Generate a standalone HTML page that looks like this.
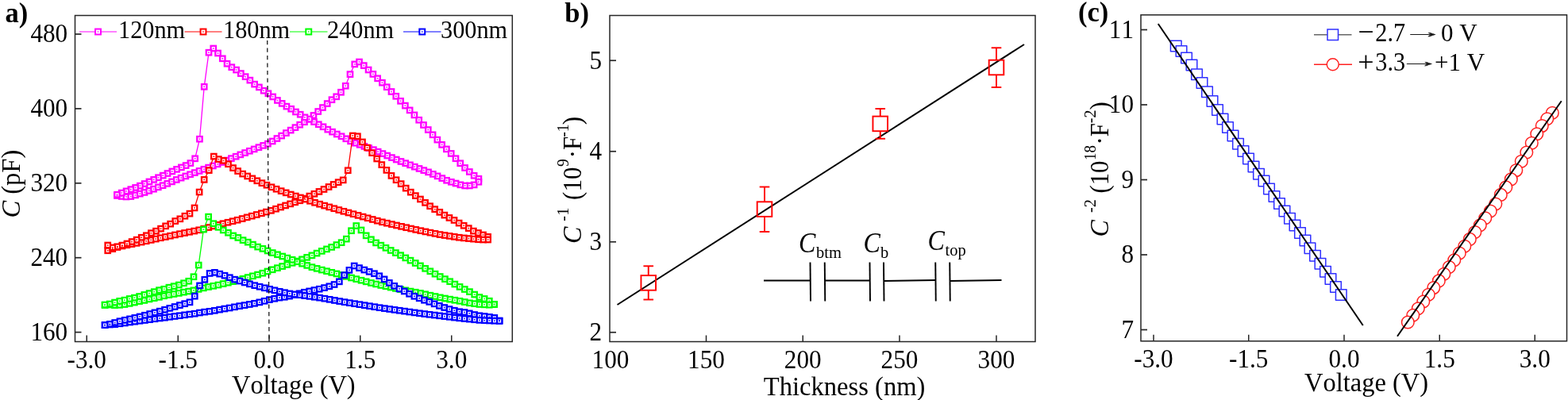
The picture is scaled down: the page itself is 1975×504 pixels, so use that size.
<!DOCTYPE html>
<html lang="en">
<head>
<meta charset="utf-8">
<title>C-V characteristics</title>
<style>
html,body{margin:0;padding:0;background:#fff;}
body{width:1975px;height:504px;overflow:hidden;}
svg{display:block;font-family:'Liberation Serif','Times New Roman',serif;fill:#000;font-kerning:none;}
</style>
</head>
<body>
<svg width="1975" height="504" viewBox="0 0 1975 504">
<rect width="1975" height="504" fill="#fff" stroke="none"/>
<path d="M147.5,246.5 L153.25,247.46 L159.01,247.97 L164.76,247.52 L170.52,245.9 L176.27,244.12 L182.03,242.45 L187.78,240.37 L193.54,238.22 L199.29,235.84 L205.05,233.69 L210.8,231.32 L216.56,228.89 L222.31,226.44 L228.07,224.13 L233.82,221.95 L239.58,219.76 L245.33,217.57 L251.08,215.4 L256.84,213.26 L262.59,211.11 L268.35,208.97 L274.1,206.83 L279.86,204.46 L285.61,202.04 L291.37,199.63 L297.12,197.21 L302.88,194.85 L308.63,192.55 L314.39,190.25 L320.14,187.94 L325.9,185.65 L331.65,183.39 L337.41,181.13 L343.16,177.99 L348.92,174.52 L354.67,171.05 L360.42,167.58 L366.18,164.11 L371.93,160.64 L377.69,157.17 L383.44,153.7 L389.2,150.23 L394.95,145.47 L400.71,140.5 L406.46,135.53 L412.22,130.56 L417.97,125.68 L423.73,121.77 L429.48,116.25 L435.24,108.24 L440.99,93.6 L446.75,80.9 L452.5,78 L458.28,82.6 L464.07,88 L469.85,93.4 L475.64,98.8 L481.42,104.19 L487.21,109.72 L492.99,115.49 L498.78,121.28 L504.56,127.31 L510.35,133.1 L516.13,138.9 L521.92,144.93 L527.7,151.22 L533.48,157.49 L539.27,163.52 L545.05,169.81 L550.84,176.1 L556.62,182.37 L562.41,187.91 L568.19,193.44 L573.98,199.72 L579.76,205.76 L585.55,211.47 L591.33,216.48 L597.12,221.27 L602.9,225.25 L602.9,229.25 L597.14,232.91 L591.38,233.98 L585.62,234 L579.86,232.83 L574.09,231.03 L568.33,229.28 L562.57,227.27 L556.81,224.59 L551.05,221.89 L545.29,219.38 L539.53,216.87 L533.77,214.65 L528,212.44 L522.24,210.15 L516.48,207.84 L510.72,205.66 L504.96,203.48 L499.2,201.03 L493.44,198.58 L487.68,196.08 L481.91,193.57 L476.15,191.12 L470.39,188.67 L464.63,186.53 L458.87,184.42 L453.11,182.31 L447.35,180.19 L441.59,177.88 L435.82,174.79 L430.06,171.78 L424.3,169.03 L418.54,166.15 L412.78,163.15 L407.02,159.76 L401.26,156.75 L395.5,153.5 L389.74,150.14 L383.97,147.84 L378.21,144.23 L372.45,140.97 L366.69,137.22 L360.93,134.1 L355.17,130.36 L349.41,126.45 L343.65,121.92 L337.88,117.78 L332.12,114.22 L326.36,109.91 L320.6,106.12 L314.84,101.12 L309.08,96.63 L303.32,92.55 L297.56,88.04 L291.79,84.67 L286.03,80.22 L280.27,73.78 L274.51,67.01 L268.75,61 L262.98,66.2 L257.2,109.3 L251.43,175.2 L245.65,199.8 L239.88,205.56 L234.11,208.56 L228.33,210.9 L222.56,213.35 L216.79,215.95 L211.01,218.54 L205.24,221.14 L199.46,223.74 L193.69,226.34 L187.92,228.94 L182.14,231.54 L176.37,234.13 L170.6,236.43 L164.82,238.64 L159.05,240.84 L153.27,243.05 L147.5,245.25" fill="none" stroke="#ff00ff" stroke-width="1.3"/>
<g fill="#fff" stroke="#ff00ff" stroke-width="2.3"><rect x="144.3" y="243.3" width="6.4" height="6.4"/><rect x="150.05" y="244.26" width="6.4" height="6.4"/><rect x="155.81" y="244.77" width="6.4" height="6.4"/><rect x="161.56" y="244.32" width="6.4" height="6.4"/><rect x="167.32" y="242.7" width="6.4" height="6.4"/><rect x="173.07" y="240.92" width="6.4" height="6.4"/><rect x="178.83" y="239.25" width="6.4" height="6.4"/><rect x="184.58" y="237.17" width="6.4" height="6.4"/><rect x="190.34" y="235.02" width="6.4" height="6.4"/><rect x="196.09" y="232.64" width="6.4" height="6.4"/><rect x="201.85" y="230.49" width="6.4" height="6.4"/><rect x="207.6" y="228.12" width="6.4" height="6.4"/><rect x="213.36" y="225.69" width="6.4" height="6.4"/><rect x="219.11" y="223.24" width="6.4" height="6.4"/><rect x="224.87" y="220.93" width="6.4" height="6.4"/><rect x="230.62" y="218.75" width="6.4" height="6.4"/><rect x="236.38" y="216.56" width="6.4" height="6.4"/><rect x="242.13" y="214.37" width="6.4" height="6.4"/><rect x="247.88" y="212.2" width="6.4" height="6.4"/><rect x="253.64" y="210.06" width="6.4" height="6.4"/><rect x="259.39" y="207.91" width="6.4" height="6.4"/><rect x="265.15" y="205.77" width="6.4" height="6.4"/><rect x="270.9" y="203.63" width="6.4" height="6.4"/><rect x="276.66" y="201.26" width="6.4" height="6.4"/><rect x="282.41" y="198.84" width="6.4" height="6.4"/><rect x="288.17" y="196.43" width="6.4" height="6.4"/><rect x="293.92" y="194.01" width="6.4" height="6.4"/><rect x="299.68" y="191.65" width="6.4" height="6.4"/><rect x="305.43" y="189.35" width="6.4" height="6.4"/><rect x="311.19" y="187.05" width="6.4" height="6.4"/><rect x="316.94" y="184.74" width="6.4" height="6.4"/><rect x="322.7" y="182.45" width="6.4" height="6.4"/><rect x="328.45" y="180.19" width="6.4" height="6.4"/><rect x="334.21" y="177.93" width="6.4" height="6.4"/><rect x="339.96" y="174.79" width="6.4" height="6.4"/><rect x="345.72" y="171.32" width="6.4" height="6.4"/><rect x="351.47" y="167.85" width="6.4" height="6.4"/><rect x="357.22" y="164.38" width="6.4" height="6.4"/><rect x="362.98" y="160.91" width="6.4" height="6.4"/><rect x="368.73" y="157.44" width="6.4" height="6.4"/><rect x="374.49" y="153.97" width="6.4" height="6.4"/><rect x="380.24" y="150.5" width="6.4" height="6.4"/><rect x="386" y="147.03" width="6.4" height="6.4"/><rect x="391.75" y="142.27" width="6.4" height="6.4"/><rect x="397.51" y="137.3" width="6.4" height="6.4"/><rect x="403.26" y="132.33" width="6.4" height="6.4"/><rect x="409.02" y="127.36" width="6.4" height="6.4"/><rect x="414.77" y="122.48" width="6.4" height="6.4"/><rect x="420.53" y="118.57" width="6.4" height="6.4"/><rect x="426.28" y="113.05" width="6.4" height="6.4"/><rect x="432.04" y="105.04" width="6.4" height="6.4"/><rect x="437.79" y="90.4" width="6.4" height="6.4"/><rect x="443.55" y="77.7" width="6.4" height="6.4"/><rect x="449.3" y="74.8" width="6.4" height="6.4"/><rect x="455.08" y="79.4" width="6.4" height="6.4"/><rect x="460.87" y="84.8" width="6.4" height="6.4"/><rect x="466.65" y="90.2" width="6.4" height="6.4"/><rect x="472.44" y="95.6" width="6.4" height="6.4"/><rect x="478.22" y="100.99" width="6.4" height="6.4"/><rect x="484.01" y="106.52" width="6.4" height="6.4"/><rect x="489.79" y="112.29" width="6.4" height="6.4"/><rect x="495.58" y="118.08" width="6.4" height="6.4"/><rect x="501.36" y="124.11" width="6.4" height="6.4"/><rect x="507.15" y="129.9" width="6.4" height="6.4"/><rect x="512.93" y="135.7" width="6.4" height="6.4"/><rect x="518.72" y="141.73" width="6.4" height="6.4"/><rect x="524.5" y="148.02" width="6.4" height="6.4"/><rect x="530.28" y="154.29" width="6.4" height="6.4"/><rect x="536.07" y="160.32" width="6.4" height="6.4"/><rect x="541.85" y="166.61" width="6.4" height="6.4"/><rect x="547.64" y="172.9" width="6.4" height="6.4"/><rect x="553.42" y="179.17" width="6.4" height="6.4"/><rect x="559.21" y="184.71" width="6.4" height="6.4"/><rect x="564.99" y="190.24" width="6.4" height="6.4"/><rect x="570.78" y="196.52" width="6.4" height="6.4"/><rect x="576.56" y="202.56" width="6.4" height="6.4"/><rect x="582.35" y="208.27" width="6.4" height="6.4"/><rect x="588.13" y="213.28" width="6.4" height="6.4"/><rect x="593.92" y="218.07" width="6.4" height="6.4"/><rect x="599.7" y="222.05" width="6.4" height="6.4"/><rect x="599.7" y="226.05" width="6.4" height="6.4"/><rect x="593.94" y="229.71" width="6.4" height="6.4"/><rect x="588.18" y="230.78" width="6.4" height="6.4"/><rect x="582.42" y="230.8" width="6.4" height="6.4"/><rect x="576.66" y="229.63" width="6.4" height="6.4"/><rect x="570.89" y="227.83" width="6.4" height="6.4"/><rect x="565.13" y="226.08" width="6.4" height="6.4"/><rect x="559.37" y="224.07" width="6.4" height="6.4"/><rect x="553.61" y="221.39" width="6.4" height="6.4"/><rect x="547.85" y="218.69" width="6.4" height="6.4"/><rect x="542.09" y="216.18" width="6.4" height="6.4"/><rect x="536.33" y="213.67" width="6.4" height="6.4"/><rect x="530.57" y="211.45" width="6.4" height="6.4"/><rect x="524.8" y="209.24" width="6.4" height="6.4"/><rect x="519.04" y="206.95" width="6.4" height="6.4"/><rect x="513.28" y="204.64" width="6.4" height="6.4"/><rect x="507.52" y="202.46" width="6.4" height="6.4"/><rect x="501.76" y="200.28" width="6.4" height="6.4"/><rect x="496" y="197.83" width="6.4" height="6.4"/><rect x="490.24" y="195.38" width="6.4" height="6.4"/><rect x="484.48" y="192.88" width="6.4" height="6.4"/><rect x="478.71" y="190.37" width="6.4" height="6.4"/><rect x="472.95" y="187.92" width="6.4" height="6.4"/><rect x="467.19" y="185.47" width="6.4" height="6.4"/><rect x="461.43" y="183.33" width="6.4" height="6.4"/><rect x="455.67" y="181.22" width="6.4" height="6.4"/><rect x="449.91" y="179.11" width="6.4" height="6.4"/><rect x="444.15" y="176.99" width="6.4" height="6.4"/><rect x="438.39" y="174.68" width="6.4" height="6.4"/><rect x="432.62" y="171.59" width="6.4" height="6.4"/><rect x="426.86" y="168.58" width="6.4" height="6.4"/><rect x="421.1" y="165.83" width="6.4" height="6.4"/><rect x="415.34" y="162.95" width="6.4" height="6.4"/><rect x="409.58" y="159.95" width="6.4" height="6.4"/><rect x="403.82" y="156.56" width="6.4" height="6.4"/><rect x="398.06" y="153.55" width="6.4" height="6.4"/><rect x="392.3" y="150.3" width="6.4" height="6.4"/><rect x="386.54" y="146.94" width="6.4" height="6.4"/><rect x="380.77" y="144.64" width="6.4" height="6.4"/><rect x="375.01" y="141.03" width="6.4" height="6.4"/><rect x="369.25" y="137.77" width="6.4" height="6.4"/><rect x="363.49" y="134.02" width="6.4" height="6.4"/><rect x="357.73" y="130.9" width="6.4" height="6.4"/><rect x="351.97" y="127.16" width="6.4" height="6.4"/><rect x="346.21" y="123.25" width="6.4" height="6.4"/><rect x="340.45" y="118.72" width="6.4" height="6.4"/><rect x="334.68" y="114.58" width="6.4" height="6.4"/><rect x="328.92" y="111.02" width="6.4" height="6.4"/><rect x="323.16" y="106.71" width="6.4" height="6.4"/><rect x="317.4" y="102.92" width="6.4" height="6.4"/><rect x="311.64" y="97.92" width="6.4" height="6.4"/><rect x="305.88" y="93.43" width="6.4" height="6.4"/><rect x="300.12" y="89.35" width="6.4" height="6.4"/><rect x="294.36" y="84.84" width="6.4" height="6.4"/><rect x="288.59" y="81.47" width="6.4" height="6.4"/><rect x="282.83" y="77.02" width="6.4" height="6.4"/><rect x="277.07" y="70.58" width="6.4" height="6.4"/><rect x="271.31" y="63.81" width="6.4" height="6.4"/><rect x="265.55" y="57.8" width="6.4" height="6.4"/><rect x="259.78" y="63" width="6.4" height="6.4"/><rect x="254" y="106.1" width="6.4" height="6.4"/><rect x="248.23" y="172" width="6.4" height="6.4"/><rect x="242.45" y="196.6" width="6.4" height="6.4"/><rect x="236.68" y="202.36" width="6.4" height="6.4"/><rect x="230.91" y="205.36" width="6.4" height="6.4"/><rect x="225.13" y="207.7" width="6.4" height="6.4"/><rect x="219.36" y="210.15" width="6.4" height="6.4"/><rect x="213.59" y="212.75" width="6.4" height="6.4"/><rect x="207.81" y="215.34" width="6.4" height="6.4"/><rect x="202.04" y="217.94" width="6.4" height="6.4"/><rect x="196.26" y="220.54" width="6.4" height="6.4"/><rect x="190.49" y="223.14" width="6.4" height="6.4"/><rect x="184.72" y="225.74" width="6.4" height="6.4"/><rect x="178.94" y="228.34" width="6.4" height="6.4"/><rect x="173.17" y="230.93" width="6.4" height="6.4"/><rect x="167.4" y="233.23" width="6.4" height="6.4"/><rect x="161.62" y="235.44" width="6.4" height="6.4"/><rect x="155.85" y="237.64" width="6.4" height="6.4"/><rect x="150.07" y="239.85" width="6.4" height="6.4"/><rect x="144.3" y="242.05" width="6.4" height="6.4"/></g><g fill="#ff00ff"><rect x="146.7" y="245.7" width="1.6" height="1.6"/><rect x="152.45" y="246.66" width="1.6" height="1.6"/><rect x="158.21" y="247.17" width="1.6" height="1.6"/><rect x="163.96" y="246.72" width="1.6" height="1.6"/><rect x="169.72" y="245.1" width="1.6" height="1.6"/><rect x="175.47" y="243.32" width="1.6" height="1.6"/><rect x="181.23" y="241.65" width="1.6" height="1.6"/><rect x="186.98" y="239.57" width="1.6" height="1.6"/><rect x="192.74" y="237.42" width="1.6" height="1.6"/><rect x="198.49" y="235.04" width="1.6" height="1.6"/><rect x="204.25" y="232.89" width="1.6" height="1.6"/><rect x="210" y="230.52" width="1.6" height="1.6"/><rect x="215.76" y="228.09" width="1.6" height="1.6"/><rect x="221.51" y="225.64" width="1.6" height="1.6"/><rect x="227.27" y="223.33" width="1.6" height="1.6"/><rect x="233.02" y="221.15" width="1.6" height="1.6"/><rect x="238.78" y="218.96" width="1.6" height="1.6"/><rect x="244.53" y="216.77" width="1.6" height="1.6"/><rect x="250.28" y="214.6" width="1.6" height="1.6"/><rect x="256.04" y="212.46" width="1.6" height="1.6"/><rect x="261.79" y="210.31" width="1.6" height="1.6"/><rect x="267.55" y="208.17" width="1.6" height="1.6"/><rect x="273.3" y="206.03" width="1.6" height="1.6"/><rect x="279.06" y="203.66" width="1.6" height="1.6"/><rect x="284.81" y="201.24" width="1.6" height="1.6"/><rect x="290.57" y="198.83" width="1.6" height="1.6"/><rect x="296.32" y="196.41" width="1.6" height="1.6"/><rect x="302.08" y="194.05" width="1.6" height="1.6"/><rect x="307.83" y="191.75" width="1.6" height="1.6"/><rect x="313.59" y="189.45" width="1.6" height="1.6"/><rect x="319.34" y="187.14" width="1.6" height="1.6"/><rect x="325.1" y="184.85" width="1.6" height="1.6"/><rect x="330.85" y="182.59" width="1.6" height="1.6"/><rect x="336.61" y="180.33" width="1.6" height="1.6"/><rect x="342.36" y="177.19" width="1.6" height="1.6"/><rect x="348.12" y="173.72" width="1.6" height="1.6"/><rect x="353.87" y="170.25" width="1.6" height="1.6"/><rect x="359.62" y="166.78" width="1.6" height="1.6"/><rect x="365.38" y="163.31" width="1.6" height="1.6"/><rect x="371.13" y="159.84" width="1.6" height="1.6"/><rect x="376.89" y="156.37" width="1.6" height="1.6"/><rect x="382.64" y="152.9" width="1.6" height="1.6"/><rect x="388.4" y="149.43" width="1.6" height="1.6"/><rect x="394.15" y="144.67" width="1.6" height="1.6"/><rect x="399.91" y="139.7" width="1.6" height="1.6"/><rect x="405.66" y="134.73" width="1.6" height="1.6"/><rect x="411.42" y="129.76" width="1.6" height="1.6"/><rect x="417.17" y="124.88" width="1.6" height="1.6"/><rect x="422.93" y="120.97" width="1.6" height="1.6"/><rect x="428.68" y="115.45" width="1.6" height="1.6"/><rect x="434.44" y="107.44" width="1.6" height="1.6"/><rect x="440.19" y="92.8" width="1.6" height="1.6"/><rect x="445.95" y="80.1" width="1.6" height="1.6"/><rect x="451.7" y="77.2" width="1.6" height="1.6"/><rect x="457.48" y="81.8" width="1.6" height="1.6"/><rect x="463.27" y="87.2" width="1.6" height="1.6"/><rect x="469.05" y="92.6" width="1.6" height="1.6"/><rect x="474.84" y="98" width="1.6" height="1.6"/><rect x="480.62" y="103.39" width="1.6" height="1.6"/><rect x="486.41" y="108.92" width="1.6" height="1.6"/><rect x="492.19" y="114.69" width="1.6" height="1.6"/><rect x="497.98" y="120.48" width="1.6" height="1.6"/><rect x="503.76" y="126.51" width="1.6" height="1.6"/><rect x="509.55" y="132.3" width="1.6" height="1.6"/><rect x="515.33" y="138.1" width="1.6" height="1.6"/><rect x="521.12" y="144.13" width="1.6" height="1.6"/><rect x="526.9" y="150.42" width="1.6" height="1.6"/><rect x="532.68" y="156.69" width="1.6" height="1.6"/><rect x="538.47" y="162.72" width="1.6" height="1.6"/><rect x="544.25" y="169.01" width="1.6" height="1.6"/><rect x="550.04" y="175.3" width="1.6" height="1.6"/><rect x="555.82" y="181.57" width="1.6" height="1.6"/><rect x="561.61" y="187.11" width="1.6" height="1.6"/><rect x="567.39" y="192.64" width="1.6" height="1.6"/><rect x="573.18" y="198.92" width="1.6" height="1.6"/><rect x="578.96" y="204.96" width="1.6" height="1.6"/><rect x="584.75" y="210.67" width="1.6" height="1.6"/><rect x="590.53" y="215.68" width="1.6" height="1.6"/><rect x="596.32" y="220.47" width="1.6" height="1.6"/><rect x="602.1" y="224.45" width="1.6" height="1.6"/><rect x="602.1" y="228.45" width="1.6" height="1.6"/><rect x="596.34" y="232.11" width="1.6" height="1.6"/><rect x="590.58" y="233.18" width="1.6" height="1.6"/><rect x="584.82" y="233.2" width="1.6" height="1.6"/><rect x="579.06" y="232.03" width="1.6" height="1.6"/><rect x="573.29" y="230.23" width="1.6" height="1.6"/><rect x="567.53" y="228.48" width="1.6" height="1.6"/><rect x="561.77" y="226.47" width="1.6" height="1.6"/><rect x="556.01" y="223.79" width="1.6" height="1.6"/><rect x="550.25" y="221.09" width="1.6" height="1.6"/><rect x="544.49" y="218.58" width="1.6" height="1.6"/><rect x="538.73" y="216.07" width="1.6" height="1.6"/><rect x="532.97" y="213.85" width="1.6" height="1.6"/><rect x="527.2" y="211.64" width="1.6" height="1.6"/><rect x="521.44" y="209.35" width="1.6" height="1.6"/><rect x="515.68" y="207.04" width="1.6" height="1.6"/><rect x="509.92" y="204.86" width="1.6" height="1.6"/><rect x="504.16" y="202.68" width="1.6" height="1.6"/><rect x="498.4" y="200.23" width="1.6" height="1.6"/><rect x="492.64" y="197.78" width="1.6" height="1.6"/><rect x="486.88" y="195.28" width="1.6" height="1.6"/><rect x="481.11" y="192.77" width="1.6" height="1.6"/><rect x="475.35" y="190.32" width="1.6" height="1.6"/><rect x="469.59" y="187.87" width="1.6" height="1.6"/><rect x="463.83" y="185.73" width="1.6" height="1.6"/><rect x="458.07" y="183.62" width="1.6" height="1.6"/><rect x="452.31" y="181.51" width="1.6" height="1.6"/><rect x="446.55" y="179.39" width="1.6" height="1.6"/><rect x="440.79" y="177.08" width="1.6" height="1.6"/><rect x="435.02" y="173.99" width="1.6" height="1.6"/><rect x="429.26" y="170.98" width="1.6" height="1.6"/><rect x="423.5" y="168.23" width="1.6" height="1.6"/><rect x="417.74" y="165.35" width="1.6" height="1.6"/><rect x="411.98" y="162.35" width="1.6" height="1.6"/><rect x="406.22" y="158.96" width="1.6" height="1.6"/><rect x="400.46" y="155.95" width="1.6" height="1.6"/><rect x="394.7" y="152.7" width="1.6" height="1.6"/><rect x="388.94" y="149.34" width="1.6" height="1.6"/><rect x="383.17" y="147.04" width="1.6" height="1.6"/><rect x="377.41" y="143.43" width="1.6" height="1.6"/><rect x="371.65" y="140.17" width="1.6" height="1.6"/><rect x="365.89" y="136.42" width="1.6" height="1.6"/><rect x="360.13" y="133.3" width="1.6" height="1.6"/><rect x="354.37" y="129.56" width="1.6" height="1.6"/><rect x="348.61" y="125.65" width="1.6" height="1.6"/><rect x="342.85" y="121.12" width="1.6" height="1.6"/><rect x="337.08" y="116.98" width="1.6" height="1.6"/><rect x="331.32" y="113.42" width="1.6" height="1.6"/><rect x="325.56" y="109.11" width="1.6" height="1.6"/><rect x="319.8" y="105.32" width="1.6" height="1.6"/><rect x="314.04" y="100.32" width="1.6" height="1.6"/><rect x="308.28" y="95.83" width="1.6" height="1.6"/><rect x="302.52" y="91.75" width="1.6" height="1.6"/><rect x="296.76" y="87.24" width="1.6" height="1.6"/><rect x="290.99" y="83.87" width="1.6" height="1.6"/><rect x="285.23" y="79.42" width="1.6" height="1.6"/><rect x="279.47" y="72.98" width="1.6" height="1.6"/><rect x="273.71" y="66.21" width="1.6" height="1.6"/><rect x="267.95" y="60.2" width="1.6" height="1.6"/><rect x="262.18" y="65.4" width="1.6" height="1.6"/><rect x="256.4" y="108.5" width="1.6" height="1.6"/><rect x="250.63" y="174.4" width="1.6" height="1.6"/><rect x="244.85" y="199" width="1.6" height="1.6"/><rect x="239.08" y="204.76" width="1.6" height="1.6"/><rect x="233.31" y="207.76" width="1.6" height="1.6"/><rect x="227.53" y="210.1" width="1.6" height="1.6"/><rect x="221.76" y="212.55" width="1.6" height="1.6"/><rect x="215.99" y="215.15" width="1.6" height="1.6"/><rect x="210.21" y="217.74" width="1.6" height="1.6"/><rect x="204.44" y="220.34" width="1.6" height="1.6"/><rect x="198.66" y="222.94" width="1.6" height="1.6"/><rect x="192.89" y="225.54" width="1.6" height="1.6"/><rect x="187.12" y="228.14" width="1.6" height="1.6"/><rect x="181.34" y="230.74" width="1.6" height="1.6"/><rect x="175.57" y="233.33" width="1.6" height="1.6"/><rect x="169.8" y="235.63" width="1.6" height="1.6"/><rect x="164.02" y="237.84" width="1.6" height="1.6"/><rect x="158.25" y="240.04" width="1.6" height="1.6"/><rect x="152.47" y="242.25" width="1.6" height="1.6"/><rect x="146.7" y="244.45" width="1.6" height="1.6"/></g>
<path d="M135.75,315.75 L141.8,313.63 L147.85,311.5 L153.9,309.97 L159.95,308.76 L166,307.55 L172.05,306.34 L178.1,305.07 L184.15,303.74 L190.2,302.41 L196.25,301.07 L202.3,299.77 L208.35,298.5 L214.4,297.23 L220.45,295.96 L226.5,294.7 L232.55,293.49 L238.6,292.28 L244.65,291.07 L250.7,289.81 L256.75,288.18 L262.8,286.54 L268.85,284.91 L274.9,283.28 L280.95,281.76 L287,280.25 L293.05,278.74 L299.1,277.23 L305.15,275.56 L311.2,273.86 L317.25,272.17 L323.3,270.48 L329.35,268.76 L335.4,267.03 L341.45,265.3 L347.5,263.2 L353.55,261.02 L359.6,258.94 L365.65,256.88 L371.7,254.82 L377.75,252.76 L383.8,250.1 L389.85,247.07 L395.9,244.25 L401.95,241.42 L408,238.5 L414.05,235.47 L420.1,232.45 L426.15,229.67 L432.2,226.89 L438.25,214.75 L444.3,171.01 L450.38,171.74 L456.46,178.91 L462.55,186.05 L468.63,192.62 L474.71,200.01 L480.79,207.58 L486.88,214.4 L492.96,221.4 L499.04,226.73 L505.12,231.61 L511.2,237.13 L517.29,242.15 L523.37,246.62 L529.45,251 L535.53,255.38 L541.61,259.74 L547.7,263.67 L553.78,267.33 L559.86,271.1 L565.94,274.45 L572.02,277.46 L578.11,281.07 L584.19,284.26 L590.27,287.61 L596.35,291.09 L602.44,293.52 L608.52,295.95 L614.6,298.34 L614.6,302 L608.54,302 L602.48,301.75 L596.43,301.14 L590.37,300.54 L584.31,299.93 L578.25,299.24 L572.19,298.33 L566.14,297.42 L560.08,296.51 L554.02,295.55 L547.96,294.34 L541.91,293.13 L535.85,291.92 L529.79,290.7 L523.73,289.37 L517.67,288.04 L511.62,286.71 L505.56,285.37 L499.5,283.99 L493.44,282.59 L487.38,281.2 L481.33,279.81 L475.27,278.18 L469.21,276.48 L463.15,274.78 L457.09,273.09 L451.04,271.39 L444.98,269.69 L438.92,268 L432.86,266.3 L426.81,264.54 L420.75,262.72 L414.69,260.91 L408.63,259.09 L402.57,257.22 L396.52,255.29 L390.46,253.26 L384.4,251.08 L378.34,248.97 L372.28,247.03 L366.23,245.04 L360.17,242.86 L354.11,240.64 L348.05,238.22 L341.99,235.79 L335.94,233.22 L329.88,230.66 L323.82,227.78 L317.76,224.88 L311.71,221.97 L305.65,219.07 L299.59,215.55 L293.53,211.58 L287.47,206.73 L281.42,202.37 L275.36,200.6 L269.3,197.08 L263.23,214.6 L257.16,226.38 L251.09,242.03 L245.02,261.94 L238.95,269.15 L232.88,272.22 L226.81,275.83 L220.74,278.56 L214.67,282.15 L208.6,284.85 L202.53,288.13 L196.45,291.17 L190.38,293.7 L184.31,296.77 L178.24,299.24 L172.17,302.13 L166.1,304.56 L160.03,306.99 L153.96,309.08 L147.89,310.77 L141.82,311.91 L135.75,309" fill="none" stroke="#ff0000" stroke-width="1.3"/>
<g fill="#fff" stroke="#ff0000" stroke-width="2.3"><rect x="132.55" y="312.55" width="6.4" height="6.4"/><rect x="138.6" y="310.43" width="6.4" height="6.4"/><rect x="144.65" y="308.3" width="6.4" height="6.4"/><rect x="150.7" y="306.77" width="6.4" height="6.4"/><rect x="156.75" y="305.56" width="6.4" height="6.4"/><rect x="162.8" y="304.35" width="6.4" height="6.4"/><rect x="168.85" y="303.14" width="6.4" height="6.4"/><rect x="174.9" y="301.87" width="6.4" height="6.4"/><rect x="180.95" y="300.54" width="6.4" height="6.4"/><rect x="187" y="299.21" width="6.4" height="6.4"/><rect x="193.05" y="297.88" width="6.4" height="6.4"/><rect x="199.1" y="296.57" width="6.4" height="6.4"/><rect x="205.15" y="295.3" width="6.4" height="6.4"/><rect x="211.2" y="294.03" width="6.4" height="6.4"/><rect x="217.25" y="292.76" width="6.4" height="6.4"/><rect x="223.3" y="291.5" width="6.4" height="6.4"/><rect x="229.35" y="290.29" width="6.4" height="6.4"/><rect x="235.4" y="289.08" width="6.4" height="6.4"/><rect x="241.45" y="287.87" width="6.4" height="6.4"/><rect x="247.5" y="286.61" width="6.4" height="6.4"/><rect x="253.55" y="284.98" width="6.4" height="6.4"/><rect x="259.6" y="283.34" width="6.4" height="6.4"/><rect x="265.65" y="281.71" width="6.4" height="6.4"/><rect x="271.7" y="280.08" width="6.4" height="6.4"/><rect x="277.75" y="278.56" width="6.4" height="6.4"/><rect x="283.8" y="277.05" width="6.4" height="6.4"/><rect x="289.85" y="275.54" width="6.4" height="6.4"/><rect x="295.9" y="274.03" width="6.4" height="6.4"/><rect x="301.95" y="272.36" width="6.4" height="6.4"/><rect x="308" y="270.66" width="6.4" height="6.4"/><rect x="314.05" y="268.97" width="6.4" height="6.4"/><rect x="320.1" y="267.28" width="6.4" height="6.4"/><rect x="326.15" y="265.56" width="6.4" height="6.4"/><rect x="332.2" y="263.83" width="6.4" height="6.4"/><rect x="338.25" y="262.1" width="6.4" height="6.4"/><rect x="344.3" y="260" width="6.4" height="6.4"/><rect x="350.35" y="257.82" width="6.4" height="6.4"/><rect x="356.4" y="255.74" width="6.4" height="6.4"/><rect x="362.45" y="253.68" width="6.4" height="6.4"/><rect x="368.5" y="251.62" width="6.4" height="6.4"/><rect x="374.55" y="249.56" width="6.4" height="6.4"/><rect x="380.6" y="246.9" width="6.4" height="6.4"/><rect x="386.65" y="243.88" width="6.4" height="6.4"/><rect x="392.7" y="241.05" width="6.4" height="6.4"/><rect x="398.75" y="238.22" width="6.4" height="6.4"/><rect x="404.8" y="235.3" width="6.4" height="6.4"/><rect x="410.85" y="232.28" width="6.4" height="6.4"/><rect x="416.9" y="229.25" width="6.4" height="6.4"/><rect x="422.95" y="226.47" width="6.4" height="6.4"/><rect x="429" y="223.69" width="6.4" height="6.4"/><rect x="435.05" y="211.55" width="6.4" height="6.4"/><rect x="441.1" y="167.81" width="6.4" height="6.4"/><rect x="447.18" y="168.54" width="6.4" height="6.4"/><rect x="453.26" y="175.71" width="6.4" height="6.4"/><rect x="459.35" y="182.85" width="6.4" height="6.4"/><rect x="465.43" y="189.42" width="6.4" height="6.4"/><rect x="471.51" y="196.81" width="6.4" height="6.4"/><rect x="477.59" y="204.38" width="6.4" height="6.4"/><rect x="483.68" y="211.2" width="6.4" height="6.4"/><rect x="489.76" y="218.2" width="6.4" height="6.4"/><rect x="495.84" y="223.53" width="6.4" height="6.4"/><rect x="501.92" y="228.41" width="6.4" height="6.4"/><rect x="508" y="233.93" width="6.4" height="6.4"/><rect x="514.09" y="238.95" width="6.4" height="6.4"/><rect x="520.17" y="243.42" width="6.4" height="6.4"/><rect x="526.25" y="247.8" width="6.4" height="6.4"/><rect x="532.33" y="252.18" width="6.4" height="6.4"/><rect x="538.41" y="256.54" width="6.4" height="6.4"/><rect x="544.5" y="260.47" width="6.4" height="6.4"/><rect x="550.58" y="264.13" width="6.4" height="6.4"/><rect x="556.66" y="267.9" width="6.4" height="6.4"/><rect x="562.74" y="271.25" width="6.4" height="6.4"/><rect x="568.82" y="274.26" width="6.4" height="6.4"/><rect x="574.91" y="277.87" width="6.4" height="6.4"/><rect x="580.99" y="281.06" width="6.4" height="6.4"/><rect x="587.07" y="284.41" width="6.4" height="6.4"/><rect x="593.15" y="287.89" width="6.4" height="6.4"/><rect x="599.24" y="290.32" width="6.4" height="6.4"/><rect x="605.32" y="292.75" width="6.4" height="6.4"/><rect x="611.4" y="295.14" width="6.4" height="6.4"/><rect x="611.4" y="298.8" width="6.4" height="6.4"/><rect x="605.34" y="298.8" width="6.4" height="6.4"/><rect x="599.28" y="298.55" width="6.4" height="6.4"/><rect x="593.23" y="297.94" width="6.4" height="6.4"/><rect x="587.17" y="297.34" width="6.4" height="6.4"/><rect x="581.11" y="296.73" width="6.4" height="6.4"/><rect x="575.05" y="296.04" width="6.4" height="6.4"/><rect x="568.99" y="295.13" width="6.4" height="6.4"/><rect x="562.94" y="294.22" width="6.4" height="6.4"/><rect x="556.88" y="293.31" width="6.4" height="6.4"/><rect x="550.82" y="292.35" width="6.4" height="6.4"/><rect x="544.76" y="291.14" width="6.4" height="6.4"/><rect x="538.71" y="289.93" width="6.4" height="6.4"/><rect x="532.65" y="288.72" width="6.4" height="6.4"/><rect x="526.59" y="287.5" width="6.4" height="6.4"/><rect x="520.53" y="286.17" width="6.4" height="6.4"/><rect x="514.47" y="284.84" width="6.4" height="6.4"/><rect x="508.42" y="283.51" width="6.4" height="6.4"/><rect x="502.36" y="282.17" width="6.4" height="6.4"/><rect x="496.3" y="280.79" width="6.4" height="6.4"/><rect x="490.24" y="279.39" width="6.4" height="6.4"/><rect x="484.18" y="278" width="6.4" height="6.4"/><rect x="478.13" y="276.61" width="6.4" height="6.4"/><rect x="472.07" y="274.98" width="6.4" height="6.4"/><rect x="466.01" y="273.28" width="6.4" height="6.4"/><rect x="459.95" y="271.58" width="6.4" height="6.4"/><rect x="453.89" y="269.89" width="6.4" height="6.4"/><rect x="447.84" y="268.19" width="6.4" height="6.4"/><rect x="441.78" y="266.49" width="6.4" height="6.4"/><rect x="435.72" y="264.8" width="6.4" height="6.4"/><rect x="429.66" y="263.1" width="6.4" height="6.4"/><rect x="423.61" y="261.34" width="6.4" height="6.4"/><rect x="417.55" y="259.52" width="6.4" height="6.4"/><rect x="411.49" y="257.71" width="6.4" height="6.4"/><rect x="405.43" y="255.89" width="6.4" height="6.4"/><rect x="399.37" y="254.02" width="6.4" height="6.4"/><rect x="393.32" y="252.09" width="6.4" height="6.4"/><rect x="387.26" y="250.06" width="6.4" height="6.4"/><rect x="381.2" y="247.88" width="6.4" height="6.4"/><rect x="375.14" y="245.77" width="6.4" height="6.4"/><rect x="369.08" y="243.83" width="6.4" height="6.4"/><rect x="363.03" y="241.84" width="6.4" height="6.4"/><rect x="356.97" y="239.66" width="6.4" height="6.4"/><rect x="350.91" y="237.44" width="6.4" height="6.4"/><rect x="344.85" y="235.02" width="6.4" height="6.4"/><rect x="338.79" y="232.59" width="6.4" height="6.4"/><rect x="332.74" y="230.02" width="6.4" height="6.4"/><rect x="326.68" y="227.46" width="6.4" height="6.4"/><rect x="320.62" y="224.58" width="6.4" height="6.4"/><rect x="314.56" y="221.68" width="6.4" height="6.4"/><rect x="308.51" y="218.77" width="6.4" height="6.4"/><rect x="302.45" y="215.87" width="6.4" height="6.4"/><rect x="296.39" y="212.35" width="6.4" height="6.4"/><rect x="290.33" y="208.38" width="6.4" height="6.4"/><rect x="284.27" y="203.53" width="6.4" height="6.4"/><rect x="278.22" y="199.17" width="6.4" height="6.4"/><rect x="272.16" y="197.4" width="6.4" height="6.4"/><rect x="266.1" y="193.88" width="6.4" height="6.4"/><rect x="260.03" y="211.4" width="6.4" height="6.4"/><rect x="253.96" y="223.18" width="6.4" height="6.4"/><rect x="247.89" y="238.83" width="6.4" height="6.4"/><rect x="241.82" y="258.74" width="6.4" height="6.4"/><rect x="235.75" y="265.95" width="6.4" height="6.4"/><rect x="229.68" y="269.02" width="6.4" height="6.4"/><rect x="223.61" y="272.63" width="6.4" height="6.4"/><rect x="217.54" y="275.36" width="6.4" height="6.4"/><rect x="211.47" y="278.95" width="6.4" height="6.4"/><rect x="205.4" y="281.65" width="6.4" height="6.4"/><rect x="199.33" y="284.93" width="6.4" height="6.4"/><rect x="193.25" y="287.97" width="6.4" height="6.4"/><rect x="187.18" y="290.5" width="6.4" height="6.4"/><rect x="181.11" y="293.57" width="6.4" height="6.4"/><rect x="175.04" y="296.04" width="6.4" height="6.4"/><rect x="168.97" y="298.93" width="6.4" height="6.4"/><rect x="162.9" y="301.36" width="6.4" height="6.4"/><rect x="156.83" y="303.79" width="6.4" height="6.4"/><rect x="150.76" y="305.88" width="6.4" height="6.4"/><rect x="144.69" y="307.57" width="6.4" height="6.4"/><rect x="138.62" y="308.71" width="6.4" height="6.4"/><rect x="132.55" y="305.8" width="6.4" height="6.4"/></g><g fill="#ff0000"><rect x="134.95" y="314.95" width="1.6" height="1.6"/><rect x="141" y="312.83" width="1.6" height="1.6"/><rect x="147.05" y="310.7" width="1.6" height="1.6"/><rect x="153.1" y="309.17" width="1.6" height="1.6"/><rect x="159.15" y="307.96" width="1.6" height="1.6"/><rect x="165.2" y="306.75" width="1.6" height="1.6"/><rect x="171.25" y="305.54" width="1.6" height="1.6"/><rect x="177.3" y="304.27" width="1.6" height="1.6"/><rect x="183.35" y="302.94" width="1.6" height="1.6"/><rect x="189.4" y="301.61" width="1.6" height="1.6"/><rect x="195.45" y="300.27" width="1.6" height="1.6"/><rect x="201.5" y="298.97" width="1.6" height="1.6"/><rect x="207.55" y="297.7" width="1.6" height="1.6"/><rect x="213.6" y="296.43" width="1.6" height="1.6"/><rect x="219.65" y="295.16" width="1.6" height="1.6"/><rect x="225.7" y="293.9" width="1.6" height="1.6"/><rect x="231.75" y="292.69" width="1.6" height="1.6"/><rect x="237.8" y="291.48" width="1.6" height="1.6"/><rect x="243.85" y="290.27" width="1.6" height="1.6"/><rect x="249.9" y="289.01" width="1.6" height="1.6"/><rect x="255.95" y="287.38" width="1.6" height="1.6"/><rect x="262" y="285.74" width="1.6" height="1.6"/><rect x="268.05" y="284.11" width="1.6" height="1.6"/><rect x="274.1" y="282.48" width="1.6" height="1.6"/><rect x="280.15" y="280.96" width="1.6" height="1.6"/><rect x="286.2" y="279.45" width="1.6" height="1.6"/><rect x="292.25" y="277.94" width="1.6" height="1.6"/><rect x="298.3" y="276.43" width="1.6" height="1.6"/><rect x="304.35" y="274.76" width="1.6" height="1.6"/><rect x="310.4" y="273.06" width="1.6" height="1.6"/><rect x="316.45" y="271.37" width="1.6" height="1.6"/><rect x="322.5" y="269.68" width="1.6" height="1.6"/><rect x="328.55" y="267.96" width="1.6" height="1.6"/><rect x="334.6" y="266.23" width="1.6" height="1.6"/><rect x="340.65" y="264.5" width="1.6" height="1.6"/><rect x="346.7" y="262.4" width="1.6" height="1.6"/><rect x="352.75" y="260.22" width="1.6" height="1.6"/><rect x="358.8" y="258.14" width="1.6" height="1.6"/><rect x="364.85" y="256.08" width="1.6" height="1.6"/><rect x="370.9" y="254.02" width="1.6" height="1.6"/><rect x="376.95" y="251.96" width="1.6" height="1.6"/><rect x="383" y="249.3" width="1.6" height="1.6"/><rect x="389.05" y="246.27" width="1.6" height="1.6"/><rect x="395.1" y="243.45" width="1.6" height="1.6"/><rect x="401.15" y="240.62" width="1.6" height="1.6"/><rect x="407.2" y="237.7" width="1.6" height="1.6"/><rect x="413.25" y="234.67" width="1.6" height="1.6"/><rect x="419.3" y="231.65" width="1.6" height="1.6"/><rect x="425.35" y="228.87" width="1.6" height="1.6"/><rect x="431.4" y="226.09" width="1.6" height="1.6"/><rect x="437.45" y="213.95" width="1.6" height="1.6"/><rect x="443.5" y="170.21" width="1.6" height="1.6"/><rect x="449.58" y="170.94" width="1.6" height="1.6"/><rect x="455.66" y="178.11" width="1.6" height="1.6"/><rect x="461.75" y="185.25" width="1.6" height="1.6"/><rect x="467.83" y="191.82" width="1.6" height="1.6"/><rect x="473.91" y="199.21" width="1.6" height="1.6"/><rect x="479.99" y="206.78" width="1.6" height="1.6"/><rect x="486.07" y="213.6" width="1.6" height="1.6"/><rect x="492.16" y="220.6" width="1.6" height="1.6"/><rect x="498.24" y="225.93" width="1.6" height="1.6"/><rect x="504.32" y="230.81" width="1.6" height="1.6"/><rect x="510.4" y="236.33" width="1.6" height="1.6"/><rect x="516.49" y="241.35" width="1.6" height="1.6"/><rect x="522.57" y="245.82" width="1.6" height="1.6"/><rect x="528.65" y="250.2" width="1.6" height="1.6"/><rect x="534.73" y="254.58" width="1.6" height="1.6"/><rect x="540.81" y="258.94" width="1.6" height="1.6"/><rect x="546.9" y="262.87" width="1.6" height="1.6"/><rect x="552.98" y="266.53" width="1.6" height="1.6"/><rect x="559.06" y="270.3" width="1.6" height="1.6"/><rect x="565.14" y="273.65" width="1.6" height="1.6"/><rect x="571.23" y="276.66" width="1.6" height="1.6"/><rect x="577.31" y="280.27" width="1.6" height="1.6"/><rect x="583.39" y="283.46" width="1.6" height="1.6"/><rect x="589.47" y="286.81" width="1.6" height="1.6"/><rect x="595.55" y="290.29" width="1.6" height="1.6"/><rect x="601.64" y="292.72" width="1.6" height="1.6"/><rect x="607.72" y="295.15" width="1.6" height="1.6"/><rect x="613.8" y="297.54" width="1.6" height="1.6"/><rect x="613.8" y="301.2" width="1.6" height="1.6"/><rect x="607.74" y="301.2" width="1.6" height="1.6"/><rect x="601.68" y="300.95" width="1.6" height="1.6"/><rect x="595.63" y="300.34" width="1.6" height="1.6"/><rect x="589.57" y="299.74" width="1.6" height="1.6"/><rect x="583.51" y="299.13" width="1.6" height="1.6"/><rect x="577.45" y="298.44" width="1.6" height="1.6"/><rect x="571.39" y="297.53" width="1.6" height="1.6"/><rect x="565.34" y="296.62" width="1.6" height="1.6"/><rect x="559.28" y="295.71" width="1.6" height="1.6"/><rect x="553.22" y="294.75" width="1.6" height="1.6"/><rect x="547.16" y="293.54" width="1.6" height="1.6"/><rect x="541.11" y="292.33" width="1.6" height="1.6"/><rect x="535.05" y="291.12" width="1.6" height="1.6"/><rect x="528.99" y="289.9" width="1.6" height="1.6"/><rect x="522.93" y="288.57" width="1.6" height="1.6"/><rect x="516.87" y="287.24" width="1.6" height="1.6"/><rect x="510.82" y="285.91" width="1.6" height="1.6"/><rect x="504.76" y="284.57" width="1.6" height="1.6"/><rect x="498.7" y="283.19" width="1.6" height="1.6"/><rect x="492.64" y="281.79" width="1.6" height="1.6"/><rect x="486.58" y="280.4" width="1.6" height="1.6"/><rect x="480.53" y="279.01" width="1.6" height="1.6"/><rect x="474.47" y="277.38" width="1.6" height="1.6"/><rect x="468.41" y="275.68" width="1.6" height="1.6"/><rect x="462.35" y="273.98" width="1.6" height="1.6"/><rect x="456.29" y="272.29" width="1.6" height="1.6"/><rect x="450.24" y="270.59" width="1.6" height="1.6"/><rect x="444.18" y="268.89" width="1.6" height="1.6"/><rect x="438.12" y="267.2" width="1.6" height="1.6"/><rect x="432.06" y="265.5" width="1.6" height="1.6"/><rect x="426.01" y="263.74" width="1.6" height="1.6"/><rect x="419.95" y="261.92" width="1.6" height="1.6"/><rect x="413.89" y="260.11" width="1.6" height="1.6"/><rect x="407.83" y="258.29" width="1.6" height="1.6"/><rect x="401.77" y="256.42" width="1.6" height="1.6"/><rect x="395.72" y="254.49" width="1.6" height="1.6"/><rect x="389.66" y="252.46" width="1.6" height="1.6"/><rect x="383.6" y="250.28" width="1.6" height="1.6"/><rect x="377.54" y="248.17" width="1.6" height="1.6"/><rect x="371.48" y="246.23" width="1.6" height="1.6"/><rect x="365.43" y="244.24" width="1.6" height="1.6"/><rect x="359.37" y="242.06" width="1.6" height="1.6"/><rect x="353.31" y="239.84" width="1.6" height="1.6"/><rect x="347.25" y="237.42" width="1.6" height="1.6"/><rect x="341.19" y="234.99" width="1.6" height="1.6"/><rect x="335.14" y="232.42" width="1.6" height="1.6"/><rect x="329.08" y="229.86" width="1.6" height="1.6"/><rect x="323.02" y="226.98" width="1.6" height="1.6"/><rect x="316.96" y="224.08" width="1.6" height="1.6"/><rect x="310.91" y="221.17" width="1.6" height="1.6"/><rect x="304.85" y="218.27" width="1.6" height="1.6"/><rect x="298.79" y="214.75" width="1.6" height="1.6"/><rect x="292.73" y="210.78" width="1.6" height="1.6"/><rect x="286.67" y="205.93" width="1.6" height="1.6"/><rect x="280.62" y="201.57" width="1.6" height="1.6"/><rect x="274.56" y="199.8" width="1.6" height="1.6"/><rect x="268.5" y="196.28" width="1.6" height="1.6"/><rect x="262.43" y="213.8" width="1.6" height="1.6"/><rect x="256.36" y="225.58" width="1.6" height="1.6"/><rect x="250.29" y="241.23" width="1.6" height="1.6"/><rect x="244.22" y="261.14" width="1.6" height="1.6"/><rect x="238.15" y="268.35" width="1.6" height="1.6"/><rect x="232.08" y="271.42" width="1.6" height="1.6"/><rect x="226.01" y="275.03" width="1.6" height="1.6"/><rect x="219.94" y="277.76" width="1.6" height="1.6"/><rect x="213.87" y="281.35" width="1.6" height="1.6"/><rect x="207.8" y="284.05" width="1.6" height="1.6"/><rect x="201.72" y="287.33" width="1.6" height="1.6"/><rect x="195.65" y="290.37" width="1.6" height="1.6"/><rect x="189.58" y="292.9" width="1.6" height="1.6"/><rect x="183.51" y="295.97" width="1.6" height="1.6"/><rect x="177.44" y="298.44" width="1.6" height="1.6"/><rect x="171.37" y="301.33" width="1.6" height="1.6"/><rect x="165.3" y="303.76" width="1.6" height="1.6"/><rect x="159.23" y="306.19" width="1.6" height="1.6"/><rect x="153.16" y="308.28" width="1.6" height="1.6"/><rect x="147.09" y="309.97" width="1.6" height="1.6"/><rect x="141.02" y="311.11" width="1.6" height="1.6"/><rect x="134.95" y="308.2" width="1.6" height="1.6"/></g>
<path d="M132.1,384.5 L138.31,384.01 L144.52,384.57 L150.73,384.31 L156.94,383.53 L163.14,382.37 L169.35,381.07 L175.56,379.6 L181.77,378.42 L187.98,376.93 L194.19,375.64 L200.4,374.34 L206.61,372.8 L212.81,371.56 L219.02,370.48 L225.23,369.38 L231.44,368.15 L237.65,367.04 L243.86,365.83 L250.07,364.38 L256.28,362.9 L262.49,361.49 L268.69,360.32 L274.9,359.04 L281.11,357.55 L287.32,356.15 L293.53,354.61 L299.74,353.06 L305.95,351.31 L312.16,349.56 L318.36,347.8 L324.57,346.04 L330.78,344.22 L336.99,341.98 L343.2,339.76 L349.41,337.65 L355.62,335.54 L361.83,333.43 L368.04,331.31 L374.24,329.07 L380.45,326.82 L386.66,324.34 L392.87,321.84 L399.08,319.11 L405.29,316.38 L411.5,313.9 L417.71,311.41 L423.91,308.55 L430.12,305.66 L436.33,301.11 L442.54,290.71 L448.75,284.5 L454.96,289.96 L461.16,296.83 L467.37,301.75 L473.57,305.92 L479.78,309.14 L485.98,312.31 L492.19,315.47 L498.39,318.57 L504.6,321.68 L510.8,324.91 L517.01,328.16 L523.21,331.51 L529.42,334.88 L535.62,338.35 L541.83,341.81 L548.04,345.16 L554.24,348.5 L560.45,351.6 L566.65,354.72 L572.86,358.07 L579.06,361.41 L585.27,364.51 L591.47,367.62 L597.68,371.08 L603.88,374.54 L610.09,376.48 L616.29,379.21 L622.5,383.5 L622.5,383.5 L616.29,384.18 L610.09,383.84 L603.88,383.48 L597.68,382.64 L591.47,381.79 L585.27,380.55 L579.06,379.31 L572.86,378.23 L566.65,377.14 L560.45,376 L554.24,374.86 L548.04,373.53 L541.83,372.19 L535.63,370.81 L529.42,369.42 L523.22,368.23 L517.01,367.06 L510.81,365.89 L504.6,364.72 L498.4,363.4 L492.19,362.08 L485.99,360.77 L479.78,359.45 L473.58,357.96 L467.37,356.47 L461.17,354.85 L454.96,353.24 L448.76,351.63 L442.55,350.01 L436.34,348.28 L430.14,346.54 L423.93,344.92 L417.73,343.31 L411.52,341.7 L405.32,340.08 L399.11,338.35 L392.91,336.61 L386.7,334.41 L380.5,332.18 L374.29,329.72 L368.09,327.24 L361.88,325.09 L355.68,322.98 L349.47,320.76 L343.27,318.53 L337.06,315.97 L330.86,313.36 L324.65,311.08 L318.45,308.1 L312.24,305.15 L306.04,302.64 L299.83,299.43 L293.63,296.93 L287.42,293.21 L281.22,289.98 L275.01,286.31 L268.81,281.7 L262.6,273.1 L256.39,289.1 L250.17,334.07 L243.96,348.74 L237.74,354.26 L231.53,356.76 L225.31,359.01 L219.1,360.69 L212.89,362.17 L206.67,364.27 L200.46,365.65 L194.24,367.65 L188.03,369.62 L181.81,371.43 L175.6,373.51 L169.39,375.17 L163.17,376.49 L156.96,378.15 L150.74,379.37 L144.53,381.08 L138.31,383.01 L132.1,384" fill="none" stroke="#00ff00" stroke-width="1.3"/>
<g fill="#fff" stroke="#00ff00" stroke-width="2.3"><rect x="128.9" y="381.3" width="6.4" height="6.4"/><rect x="135.11" y="380.81" width="6.4" height="6.4"/><rect x="141.32" y="381.37" width="6.4" height="6.4"/><rect x="147.53" y="381.11" width="6.4" height="6.4"/><rect x="153.74" y="380.33" width="6.4" height="6.4"/><rect x="159.94" y="379.17" width="6.4" height="6.4"/><rect x="166.15" y="377.87" width="6.4" height="6.4"/><rect x="172.36" y="376.4" width="6.4" height="6.4"/><rect x="178.57" y="375.22" width="6.4" height="6.4"/><rect x="184.78" y="373.73" width="6.4" height="6.4"/><rect x="190.99" y="372.44" width="6.4" height="6.4"/><rect x="197.2" y="371.14" width="6.4" height="6.4"/><rect x="203.41" y="369.6" width="6.4" height="6.4"/><rect x="209.61" y="368.36" width="6.4" height="6.4"/><rect x="215.82" y="367.28" width="6.4" height="6.4"/><rect x="222.03" y="366.18" width="6.4" height="6.4"/><rect x="228.24" y="364.95" width="6.4" height="6.4"/><rect x="234.45" y="363.84" width="6.4" height="6.4"/><rect x="240.66" y="362.63" width="6.4" height="6.4"/><rect x="246.87" y="361.18" width="6.4" height="6.4"/><rect x="253.08" y="359.7" width="6.4" height="6.4"/><rect x="259.29" y="358.29" width="6.4" height="6.4"/><rect x="265.49" y="357.12" width="6.4" height="6.4"/><rect x="271.7" y="355.84" width="6.4" height="6.4"/><rect x="277.91" y="354.35" width="6.4" height="6.4"/><rect x="284.12" y="352.95" width="6.4" height="6.4"/><rect x="290.33" y="351.41" width="6.4" height="6.4"/><rect x="296.54" y="349.86" width="6.4" height="6.4"/><rect x="302.75" y="348.12" width="6.4" height="6.4"/><rect x="308.96" y="346.36" width="6.4" height="6.4"/><rect x="315.16" y="344.6" width="6.4" height="6.4"/><rect x="321.37" y="342.84" width="6.4" height="6.4"/><rect x="327.58" y="341.02" width="6.4" height="6.4"/><rect x="333.79" y="338.78" width="6.4" height="6.4"/><rect x="340" y="336.56" width="6.4" height="6.4"/><rect x="346.21" y="334.45" width="6.4" height="6.4"/><rect x="352.42" y="332.34" width="6.4" height="6.4"/><rect x="358.63" y="330.23" width="6.4" height="6.4"/><rect x="364.84" y="328.11" width="6.4" height="6.4"/><rect x="371.04" y="325.87" width="6.4" height="6.4"/><rect x="377.25" y="323.62" width="6.4" height="6.4"/><rect x="383.46" y="321.14" width="6.4" height="6.4"/><rect x="389.67" y="318.64" width="6.4" height="6.4"/><rect x="395.88" y="315.91" width="6.4" height="6.4"/><rect x="402.09" y="313.18" width="6.4" height="6.4"/><rect x="408.3" y="310.7" width="6.4" height="6.4"/><rect x="414.51" y="308.21" width="6.4" height="6.4"/><rect x="420.71" y="305.35" width="6.4" height="6.4"/><rect x="426.92" y="302.46" width="6.4" height="6.4"/><rect x="433.13" y="297.91" width="6.4" height="6.4"/><rect x="439.34" y="287.51" width="6.4" height="6.4"/><rect x="445.55" y="281.3" width="6.4" height="6.4"/><rect x="451.76" y="286.76" width="6.4" height="6.4"/><rect x="457.96" y="293.63" width="6.4" height="6.4"/><rect x="464.17" y="298.55" width="6.4" height="6.4"/><rect x="470.37" y="302.72" width="6.4" height="6.4"/><rect x="476.58" y="305.94" width="6.4" height="6.4"/><rect x="482.78" y="309.11" width="6.4" height="6.4"/><rect x="488.99" y="312.27" width="6.4" height="6.4"/><rect x="495.19" y="315.37" width="6.4" height="6.4"/><rect x="501.4" y="318.48" width="6.4" height="6.4"/><rect x="507.6" y="321.71" width="6.4" height="6.4"/><rect x="513.81" y="324.96" width="6.4" height="6.4"/><rect x="520.01" y="328.31" width="6.4" height="6.4"/><rect x="526.22" y="331.68" width="6.4" height="6.4"/><rect x="532.42" y="335.15" width="6.4" height="6.4"/><rect x="538.63" y="338.61" width="6.4" height="6.4"/><rect x="544.84" y="341.96" width="6.4" height="6.4"/><rect x="551.04" y="345.3" width="6.4" height="6.4"/><rect x="557.25" y="348.4" width="6.4" height="6.4"/><rect x="563.45" y="351.52" width="6.4" height="6.4"/><rect x="569.66" y="354.87" width="6.4" height="6.4"/><rect x="575.86" y="358.21" width="6.4" height="6.4"/><rect x="582.07" y="361.31" width="6.4" height="6.4"/><rect x="588.27" y="364.42" width="6.4" height="6.4"/><rect x="594.48" y="367.88" width="6.4" height="6.4"/><rect x="600.68" y="371.34" width="6.4" height="6.4"/><rect x="606.89" y="373.28" width="6.4" height="6.4"/><rect x="613.09" y="376.01" width="6.4" height="6.4"/><rect x="619.3" y="380.3" width="6.4" height="6.4"/><rect x="619.3" y="380.3" width="6.4" height="6.4"/><rect x="613.09" y="380.98" width="6.4" height="6.4"/><rect x="606.89" y="380.64" width="6.4" height="6.4"/><rect x="600.68" y="380.28" width="6.4" height="6.4"/><rect x="594.48" y="379.44" width="6.4" height="6.4"/><rect x="588.27" y="378.59" width="6.4" height="6.4"/><rect x="582.07" y="377.35" width="6.4" height="6.4"/><rect x="575.86" y="376.11" width="6.4" height="6.4"/><rect x="569.66" y="375.03" width="6.4" height="6.4"/><rect x="563.45" y="373.94" width="6.4" height="6.4"/><rect x="557.25" y="372.8" width="6.4" height="6.4"/><rect x="551.04" y="371.66" width="6.4" height="6.4"/><rect x="544.84" y="370.33" width="6.4" height="6.4"/><rect x="538.63" y="368.99" width="6.4" height="6.4"/><rect x="532.43" y="367.61" width="6.4" height="6.4"/><rect x="526.22" y="366.22" width="6.4" height="6.4"/><rect x="520.02" y="365.03" width="6.4" height="6.4"/><rect x="513.81" y="363.86" width="6.4" height="6.4"/><rect x="507.61" y="362.69" width="6.4" height="6.4"/><rect x="501.4" y="361.52" width="6.4" height="6.4"/><rect x="495.2" y="360.2" width="6.4" height="6.4"/><rect x="488.99" y="358.88" width="6.4" height="6.4"/><rect x="482.79" y="357.57" width="6.4" height="6.4"/><rect x="476.58" y="356.25" width="6.4" height="6.4"/><rect x="470.38" y="354.76" width="6.4" height="6.4"/><rect x="464.17" y="353.27" width="6.4" height="6.4"/><rect x="457.97" y="351.65" width="6.4" height="6.4"/><rect x="451.76" y="350.04" width="6.4" height="6.4"/><rect x="445.56" y="348.43" width="6.4" height="6.4"/><rect x="439.35" y="346.81" width="6.4" height="6.4"/><rect x="433.14" y="345.08" width="6.4" height="6.4"/><rect x="426.94" y="343.34" width="6.4" height="6.4"/><rect x="420.73" y="341.72" width="6.4" height="6.4"/><rect x="414.53" y="340.11" width="6.4" height="6.4"/><rect x="408.32" y="338.5" width="6.4" height="6.4"/><rect x="402.12" y="336.88" width="6.4" height="6.4"/><rect x="395.91" y="335.15" width="6.4" height="6.4"/><rect x="389.71" y="333.41" width="6.4" height="6.4"/><rect x="383.5" y="331.21" width="6.4" height="6.4"/><rect x="377.3" y="328.98" width="6.4" height="6.4"/><rect x="371.09" y="326.52" width="6.4" height="6.4"/><rect x="364.89" y="324.04" width="6.4" height="6.4"/><rect x="358.68" y="321.89" width="6.4" height="6.4"/><rect x="352.48" y="319.78" width="6.4" height="6.4"/><rect x="346.27" y="317.56" width="6.4" height="6.4"/><rect x="340.07" y="315.33" width="6.4" height="6.4"/><rect x="333.86" y="312.77" width="6.4" height="6.4"/><rect x="327.66" y="310.16" width="6.4" height="6.4"/><rect x="321.45" y="307.88" width="6.4" height="6.4"/><rect x="315.25" y="304.9" width="6.4" height="6.4"/><rect x="309.04" y="301.95" width="6.4" height="6.4"/><rect x="302.84" y="299.44" width="6.4" height="6.4"/><rect x="296.63" y="296.23" width="6.4" height="6.4"/><rect x="290.43" y="293.73" width="6.4" height="6.4"/><rect x="284.22" y="290.01" width="6.4" height="6.4"/><rect x="278.02" y="286.78" width="6.4" height="6.4"/><rect x="271.81" y="283.11" width="6.4" height="6.4"/><rect x="265.61" y="278.5" width="6.4" height="6.4"/><rect x="259.4" y="269.9" width="6.4" height="6.4"/><rect x="253.19" y="285.9" width="6.4" height="6.4"/><rect x="246.97" y="330.87" width="6.4" height="6.4"/><rect x="240.76" y="345.54" width="6.4" height="6.4"/><rect x="234.54" y="351.06" width="6.4" height="6.4"/><rect x="228.33" y="353.56" width="6.4" height="6.4"/><rect x="222.11" y="355.81" width="6.4" height="6.4"/><rect x="215.9" y="357.49" width="6.4" height="6.4"/><rect x="209.69" y="358.97" width="6.4" height="6.4"/><rect x="203.47" y="361.07" width="6.4" height="6.4"/><rect x="197.26" y="362.45" width="6.4" height="6.4"/><rect x="191.04" y="364.45" width="6.4" height="6.4"/><rect x="184.83" y="366.42" width="6.4" height="6.4"/><rect x="178.61" y="368.23" width="6.4" height="6.4"/><rect x="172.4" y="370.31" width="6.4" height="6.4"/><rect x="166.19" y="371.97" width="6.4" height="6.4"/><rect x="159.97" y="373.29" width="6.4" height="6.4"/><rect x="153.76" y="374.95" width="6.4" height="6.4"/><rect x="147.54" y="376.17" width="6.4" height="6.4"/><rect x="141.33" y="377.88" width="6.4" height="6.4"/><rect x="135.11" y="379.81" width="6.4" height="6.4"/><rect x="128.9" y="380.8" width="6.4" height="6.4"/></g><g fill="#00ff00"><rect x="131.3" y="383.7" width="1.6" height="1.6"/><rect x="137.51" y="383.21" width="1.6" height="1.6"/><rect x="143.72" y="383.77" width="1.6" height="1.6"/><rect x="149.93" y="383.51" width="1.6" height="1.6"/><rect x="156.14" y="382.73" width="1.6" height="1.6"/><rect x="162.34" y="381.57" width="1.6" height="1.6"/><rect x="168.55" y="380.27" width="1.6" height="1.6"/><rect x="174.76" y="378.8" width="1.6" height="1.6"/><rect x="180.97" y="377.62" width="1.6" height="1.6"/><rect x="187.18" y="376.13" width="1.6" height="1.6"/><rect x="193.39" y="374.84" width="1.6" height="1.6"/><rect x="199.6" y="373.54" width="1.6" height="1.6"/><rect x="205.81" y="372" width="1.6" height="1.6"/><rect x="212.01" y="370.76" width="1.6" height="1.6"/><rect x="218.22" y="369.68" width="1.6" height="1.6"/><rect x="224.43" y="368.58" width="1.6" height="1.6"/><rect x="230.64" y="367.35" width="1.6" height="1.6"/><rect x="236.85" y="366.24" width="1.6" height="1.6"/><rect x="243.06" y="365.03" width="1.6" height="1.6"/><rect x="249.27" y="363.58" width="1.6" height="1.6"/><rect x="255.48" y="362.1" width="1.6" height="1.6"/><rect x="261.69" y="360.69" width="1.6" height="1.6"/><rect x="267.89" y="359.52" width="1.6" height="1.6"/><rect x="274.1" y="358.24" width="1.6" height="1.6"/><rect x="280.31" y="356.75" width="1.6" height="1.6"/><rect x="286.52" y="355.35" width="1.6" height="1.6"/><rect x="292.73" y="353.81" width="1.6" height="1.6"/><rect x="298.94" y="352.26" width="1.6" height="1.6"/><rect x="305.15" y="350.51" width="1.6" height="1.6"/><rect x="311.36" y="348.76" width="1.6" height="1.6"/><rect x="317.56" y="347" width="1.6" height="1.6"/><rect x="323.77" y="345.24" width="1.6" height="1.6"/><rect x="329.98" y="343.42" width="1.6" height="1.6"/><rect x="336.19" y="341.18" width="1.6" height="1.6"/><rect x="342.4" y="338.96" width="1.6" height="1.6"/><rect x="348.61" y="336.85" width="1.6" height="1.6"/><rect x="354.82" y="334.74" width="1.6" height="1.6"/><rect x="361.03" y="332.63" width="1.6" height="1.6"/><rect x="367.24" y="330.51" width="1.6" height="1.6"/><rect x="373.44" y="328.27" width="1.6" height="1.6"/><rect x="379.65" y="326.02" width="1.6" height="1.6"/><rect x="385.86" y="323.54" width="1.6" height="1.6"/><rect x="392.07" y="321.04" width="1.6" height="1.6"/><rect x="398.28" y="318.31" width="1.6" height="1.6"/><rect x="404.49" y="315.58" width="1.6" height="1.6"/><rect x="410.7" y="313.1" width="1.6" height="1.6"/><rect x="416.91" y="310.61" width="1.6" height="1.6"/><rect x="423.11" y="307.75" width="1.6" height="1.6"/><rect x="429.32" y="304.86" width="1.6" height="1.6"/><rect x="435.53" y="300.31" width="1.6" height="1.6"/><rect x="441.74" y="289.91" width="1.6" height="1.6"/><rect x="447.95" y="283.7" width="1.6" height="1.6"/><rect x="454.16" y="289.16" width="1.6" height="1.6"/><rect x="460.36" y="296.03" width="1.6" height="1.6"/><rect x="466.57" y="300.95" width="1.6" height="1.6"/><rect x="472.77" y="305.12" width="1.6" height="1.6"/><rect x="478.98" y="308.34" width="1.6" height="1.6"/><rect x="485.18" y="311.51" width="1.6" height="1.6"/><rect x="491.39" y="314.67" width="1.6" height="1.6"/><rect x="497.59" y="317.77" width="1.6" height="1.6"/><rect x="503.8" y="320.88" width="1.6" height="1.6"/><rect x="510" y="324.11" width="1.6" height="1.6"/><rect x="516.21" y="327.36" width="1.6" height="1.6"/><rect x="522.41" y="330.71" width="1.6" height="1.6"/><rect x="528.62" y="334.07" width="1.6" height="1.6"/><rect x="534.83" y="337.55" width="1.6" height="1.6"/><rect x="541.03" y="341.01" width="1.6" height="1.6"/><rect x="547.24" y="344.36" width="1.6" height="1.6"/><rect x="553.44" y="347.7" width="1.6" height="1.6"/><rect x="559.65" y="350.8" width="1.6" height="1.6"/><rect x="565.85" y="353.92" width="1.6" height="1.6"/><rect x="572.06" y="357.27" width="1.6" height="1.6"/><rect x="578.26" y="360.61" width="1.6" height="1.6"/><rect x="584.47" y="363.71" width="1.6" height="1.6"/><rect x="590.67" y="366.82" width="1.6" height="1.6"/><rect x="596.88" y="370.28" width="1.6" height="1.6"/><rect x="603.08" y="373.74" width="1.6" height="1.6"/><rect x="609.29" y="375.68" width="1.6" height="1.6"/><rect x="615.49" y="378.41" width="1.6" height="1.6"/><rect x="621.7" y="382.7" width="1.6" height="1.6"/><rect x="621.7" y="382.7" width="1.6" height="1.6"/><rect x="615.49" y="383.38" width="1.6" height="1.6"/><rect x="609.29" y="383.04" width="1.6" height="1.6"/><rect x="603.08" y="382.68" width="1.6" height="1.6"/><rect x="596.88" y="381.84" width="1.6" height="1.6"/><rect x="590.67" y="380.99" width="1.6" height="1.6"/><rect x="584.47" y="379.75" width="1.6" height="1.6"/><rect x="578.26" y="378.51" width="1.6" height="1.6"/><rect x="572.06" y="377.43" width="1.6" height="1.6"/><rect x="565.85" y="376.34" width="1.6" height="1.6"/><rect x="559.65" y="375.2" width="1.6" height="1.6"/><rect x="553.44" y="374.06" width="1.6" height="1.6"/><rect x="547.24" y="372.73" width="1.6" height="1.6"/><rect x="541.03" y="371.39" width="1.6" height="1.6"/><rect x="534.83" y="370.01" width="1.6" height="1.6"/><rect x="528.62" y="368.62" width="1.6" height="1.6"/><rect x="522.42" y="367.43" width="1.6" height="1.6"/><rect x="516.21" y="366.26" width="1.6" height="1.6"/><rect x="510.01" y="365.09" width="1.6" height="1.6"/><rect x="503.8" y="363.92" width="1.6" height="1.6"/><rect x="497.6" y="362.6" width="1.6" height="1.6"/><rect x="491.39" y="361.28" width="1.6" height="1.6"/><rect x="485.19" y="359.97" width="1.6" height="1.6"/><rect x="478.98" y="358.65" width="1.6" height="1.6"/><rect x="472.78" y="357.16" width="1.6" height="1.6"/><rect x="466.57" y="355.67" width="1.6" height="1.6"/><rect x="460.37" y="354.05" width="1.6" height="1.6"/><rect x="454.16" y="352.44" width="1.6" height="1.6"/><rect x="447.96" y="350.83" width="1.6" height="1.6"/><rect x="441.75" y="349.21" width="1.6" height="1.6"/><rect x="435.54" y="347.48" width="1.6" height="1.6"/><rect x="429.34" y="345.74" width="1.6" height="1.6"/><rect x="423.13" y="344.12" width="1.6" height="1.6"/><rect x="416.93" y="342.51" width="1.6" height="1.6"/><rect x="410.72" y="340.9" width="1.6" height="1.6"/><rect x="404.52" y="339.28" width="1.6" height="1.6"/><rect x="398.31" y="337.55" width="1.6" height="1.6"/><rect x="392.11" y="335.81" width="1.6" height="1.6"/><rect x="385.9" y="333.61" width="1.6" height="1.6"/><rect x="379.7" y="331.38" width="1.6" height="1.6"/><rect x="373.49" y="328.92" width="1.6" height="1.6"/><rect x="367.29" y="326.44" width="1.6" height="1.6"/><rect x="361.08" y="324.29" width="1.6" height="1.6"/><rect x="354.88" y="322.18" width="1.6" height="1.6"/><rect x="348.67" y="319.96" width="1.6" height="1.6"/><rect x="342.47" y="317.73" width="1.6" height="1.6"/><rect x="336.26" y="315.17" width="1.6" height="1.6"/><rect x="330.06" y="312.56" width="1.6" height="1.6"/><rect x="323.85" y="310.28" width="1.6" height="1.6"/><rect x="317.65" y="307.3" width="1.6" height="1.6"/><rect x="311.44" y="304.35" width="1.6" height="1.6"/><rect x="305.24" y="301.84" width="1.6" height="1.6"/><rect x="299.03" y="298.63" width="1.6" height="1.6"/><rect x="292.83" y="296.13" width="1.6" height="1.6"/><rect x="286.62" y="292.41" width="1.6" height="1.6"/><rect x="280.42" y="289.18" width="1.6" height="1.6"/><rect x="274.21" y="285.51" width="1.6" height="1.6"/><rect x="268.01" y="280.9" width="1.6" height="1.6"/><rect x="261.8" y="272.3" width="1.6" height="1.6"/><rect x="255.59" y="288.3" width="1.6" height="1.6"/><rect x="249.37" y="333.27" width="1.6" height="1.6"/><rect x="243.16" y="347.94" width="1.6" height="1.6"/><rect x="236.94" y="353.46" width="1.6" height="1.6"/><rect x="230.73" y="355.96" width="1.6" height="1.6"/><rect x="224.51" y="358.21" width="1.6" height="1.6"/><rect x="218.3" y="359.89" width="1.6" height="1.6"/><rect x="212.09" y="361.37" width="1.6" height="1.6"/><rect x="205.87" y="363.47" width="1.6" height="1.6"/><rect x="199.66" y="364.85" width="1.6" height="1.6"/><rect x="193.44" y="366.85" width="1.6" height="1.6"/><rect x="187.23" y="368.82" width="1.6" height="1.6"/><rect x="181.01" y="370.63" width="1.6" height="1.6"/><rect x="174.8" y="372.71" width="1.6" height="1.6"/><rect x="168.59" y="374.37" width="1.6" height="1.6"/><rect x="162.37" y="375.69" width="1.6" height="1.6"/><rect x="156.16" y="377.35" width="1.6" height="1.6"/><rect x="149.94" y="378.57" width="1.6" height="1.6"/><rect x="143.73" y="380.28" width="1.6" height="1.6"/><rect x="137.51" y="382.21" width="1.6" height="1.6"/><rect x="131.3" y="383.2" width="1.6" height="1.6"/></g>
<path d="M132.1,409.6 L138.38,409 L144.66,408.71 L150.95,407.81 L157.23,407 L163.51,406 L169.79,405.19 L176.07,404.29 L182.36,403.51 L188.64,402.69 L194.92,401.8 L201.2,400.99 L207.48,400.24 L213.77,399.33 L220.05,398.53 L226.33,397.72 L232.61,396.83 L238.89,396.01 L245.18,395.23 L251.46,394.03 L257.74,393.12 L264.02,392.31 L270.3,391.32 L276.59,390.1 L282.87,389.02 L289.15,388.01 L295.43,386.81 L301.71,385.6 L308,384.6 L314.28,383.49 L320.56,382.31 L326.84,380.86 L333.12,379.29 L339.41,377.58 L345.69,376.28 L351.97,375.11 L358.25,374.29 L364.53,373.14 L370.82,371.57 L377.1,369.81 L383.38,368.27 L389.66,366.91 L395.94,365.56 L402.23,364.2 L408.51,362.59 L414.79,360.78 L421.07,358.49 L427.35,354.83 L433.64,346.61 L439.92,340.34 L446.2,335 L452.51,337.6 L458.81,340.04 L465.12,342.34 L471.43,344.71 L477.73,347.75 L484.04,351.88 L490.35,356.42 L496.66,360.31 L502.96,363.97 L509.27,366.99 L515.58,370.28 L521.88,373.29 L528.19,375.79 L534.5,378.26 L540.8,380.34 L547.11,382.85 L553.42,385.37 L559.72,387.51 L566.03,389.53 L572.34,391.22 L578.64,392.75 L584.95,393.5 L591.26,394.85 L597.57,396.53 L603.87,397.78 L610.18,398.53 L616.49,399.41 L622.79,400.42 L629.1,404 L629.1,404.5 L622.81,404.25 L616.51,403.98 L610.22,403.72 L603.93,403.39 L597.64,402.76 L591.34,402.13 L585.05,401.5 L578.76,400.85 L572.46,400.1 L566.17,399.34 L559.88,398.59 L553.58,397.83 L547.29,397.07 L541,396.32 L534.71,395.56 L528.41,394.78 L522.12,393.9 L515.83,393.02 L509.53,392.13 L503.24,391.25 L496.95,390.37 L490.65,389.49 L484.36,388.61 L478.07,387.69 L471.78,386.68 L465.48,385.68 L459.19,384.67 L452.9,383.66 L446.6,382.66 L440.31,381.65 L434.02,380.64 L427.72,379.59 L421.43,378.46 L415.14,377.32 L408.85,376.19 L402.55,375.16 L396.26,374.28 L389.97,373.4 L383.67,372.51 L377.38,371.69 L371.09,370.93 L364.79,369.96 L358.5,368.7 L352.21,367.33 L345.92,365.82 L339.62,364.31 L333.33,362.8 L327.04,361.26 L320.74,359.69 L314.45,357.84 L308.16,355.95 L301.86,354.06 L295.57,352.17 L289.28,349.71 L282.99,347.19 L276.69,345.14 L270.4,343.36 L264.11,344.43 L257.83,352.32 L251.54,359.9 L245.25,373.2 L238.97,380.81 L232.68,382.7 L226.4,384.58 L220.11,386.47 L213.82,388.35 L207.54,390.24 L201.25,392.12 L194.96,393.86 L188.68,395.56 L182.39,397.25 L176.1,398.95 L169.82,400.44 L163.53,401.89 L157.25,403.33 L150.96,404.78 L144.67,406.56 L138.39,408.4 L132.1,409.6" fill="none" stroke="#0000ff" stroke-width="1.3"/>
<g fill="#fff" stroke="#0000ff" stroke-width="2.3"><rect x="128.9" y="406.4" width="6.4" height="6.4"/><rect x="135.18" y="405.8" width="6.4" height="6.4"/><rect x="141.46" y="405.51" width="6.4" height="6.4"/><rect x="147.75" y="404.61" width="6.4" height="6.4"/><rect x="154.03" y="403.8" width="6.4" height="6.4"/><rect x="160.31" y="402.8" width="6.4" height="6.4"/><rect x="166.59" y="401.99" width="6.4" height="6.4"/><rect x="172.87" y="401.09" width="6.4" height="6.4"/><rect x="179.16" y="400.31" width="6.4" height="6.4"/><rect x="185.44" y="399.49" width="6.4" height="6.4"/><rect x="191.72" y="398.6" width="6.4" height="6.4"/><rect x="198" y="397.79" width="6.4" height="6.4"/><rect x="204.28" y="397.04" width="6.4" height="6.4"/><rect x="210.57" y="396.13" width="6.4" height="6.4"/><rect x="216.85" y="395.33" width="6.4" height="6.4"/><rect x="223.13" y="394.52" width="6.4" height="6.4"/><rect x="229.41" y="393.63" width="6.4" height="6.4"/><rect x="235.69" y="392.81" width="6.4" height="6.4"/><rect x="241.98" y="392.03" width="6.4" height="6.4"/><rect x="248.26" y="390.83" width="6.4" height="6.4"/><rect x="254.54" y="389.92" width="6.4" height="6.4"/><rect x="260.82" y="389.11" width="6.4" height="6.4"/><rect x="267.1" y="388.12" width="6.4" height="6.4"/><rect x="273.39" y="386.9" width="6.4" height="6.4"/><rect x="279.67" y="385.82" width="6.4" height="6.4"/><rect x="285.95" y="384.81" width="6.4" height="6.4"/><rect x="292.23" y="383.61" width="6.4" height="6.4"/><rect x="298.51" y="382.4" width="6.4" height="6.4"/><rect x="304.8" y="381.4" width="6.4" height="6.4"/><rect x="311.08" y="380.29" width="6.4" height="6.4"/><rect x="317.36" y="379.11" width="6.4" height="6.4"/><rect x="323.64" y="377.66" width="6.4" height="6.4"/><rect x="329.92" y="376.09" width="6.4" height="6.4"/><rect x="336.21" y="374.38" width="6.4" height="6.4"/><rect x="342.49" y="373.08" width="6.4" height="6.4"/><rect x="348.77" y="371.91" width="6.4" height="6.4"/><rect x="355.05" y="371.09" width="6.4" height="6.4"/><rect x="361.33" y="369.94" width="6.4" height="6.4"/><rect x="367.62" y="368.37" width="6.4" height="6.4"/><rect x="373.9" y="366.61" width="6.4" height="6.4"/><rect x="380.18" y="365.07" width="6.4" height="6.4"/><rect x="386.46" y="363.71" width="6.4" height="6.4"/><rect x="392.74" y="362.36" width="6.4" height="6.4"/><rect x="399.03" y="361" width="6.4" height="6.4"/><rect x="405.31" y="359.39" width="6.4" height="6.4"/><rect x="411.59" y="357.58" width="6.4" height="6.4"/><rect x="417.87" y="355.29" width="6.4" height="6.4"/><rect x="424.15" y="351.63" width="6.4" height="6.4"/><rect x="430.44" y="343.41" width="6.4" height="6.4"/><rect x="436.72" y="337.14" width="6.4" height="6.4"/><rect x="443" y="331.8" width="6.4" height="6.4"/><rect x="449.31" y="334.4" width="6.4" height="6.4"/><rect x="455.61" y="336.84" width="6.4" height="6.4"/><rect x="461.92" y="339.14" width="6.4" height="6.4"/><rect x="468.23" y="341.51" width="6.4" height="6.4"/><rect x="474.53" y="344.55" width="6.4" height="6.4"/><rect x="480.84" y="348.68" width="6.4" height="6.4"/><rect x="487.15" y="353.22" width="6.4" height="6.4"/><rect x="493.46" y="357.11" width="6.4" height="6.4"/><rect x="499.76" y="360.77" width="6.4" height="6.4"/><rect x="506.07" y="363.79" width="6.4" height="6.4"/><rect x="512.38" y="367.08" width="6.4" height="6.4"/><rect x="518.68" y="370.09" width="6.4" height="6.4"/><rect x="524.99" y="372.59" width="6.4" height="6.4"/><rect x="531.3" y="375.06" width="6.4" height="6.4"/><rect x="537.6" y="377.14" width="6.4" height="6.4"/><rect x="543.91" y="379.65" width="6.4" height="6.4"/><rect x="550.22" y="382.17" width="6.4" height="6.4"/><rect x="556.52" y="384.31" width="6.4" height="6.4"/><rect x="562.83" y="386.33" width="6.4" height="6.4"/><rect x="569.14" y="388.02" width="6.4" height="6.4"/><rect x="575.44" y="389.55" width="6.4" height="6.4"/><rect x="581.75" y="390.3" width="6.4" height="6.4"/><rect x="588.06" y="391.65" width="6.4" height="6.4"/><rect x="594.37" y="393.33" width="6.4" height="6.4"/><rect x="600.67" y="394.58" width="6.4" height="6.4"/><rect x="606.98" y="395.33" width="6.4" height="6.4"/><rect x="613.29" y="396.21" width="6.4" height="6.4"/><rect x="619.59" y="397.22" width="6.4" height="6.4"/><rect x="625.9" y="400.8" width="6.4" height="6.4"/><rect x="625.9" y="401.3" width="6.4" height="6.4"/><rect x="619.61" y="401.05" width="6.4" height="6.4"/><rect x="613.31" y="400.78" width="6.4" height="6.4"/><rect x="607.02" y="400.52" width="6.4" height="6.4"/><rect x="600.73" y="400.19" width="6.4" height="6.4"/><rect x="594.44" y="399.56" width="6.4" height="6.4"/><rect x="588.14" y="398.93" width="6.4" height="6.4"/><rect x="581.85" y="398.3" width="6.4" height="6.4"/><rect x="575.56" y="397.65" width="6.4" height="6.4"/><rect x="569.26" y="396.9" width="6.4" height="6.4"/><rect x="562.97" y="396.14" width="6.4" height="6.4"/><rect x="556.68" y="395.39" width="6.4" height="6.4"/><rect x="550.38" y="394.63" width="6.4" height="6.4"/><rect x="544.09" y="393.87" width="6.4" height="6.4"/><rect x="537.8" y="393.12" width="6.4" height="6.4"/><rect x="531.51" y="392.36" width="6.4" height="6.4"/><rect x="525.21" y="391.58" width="6.4" height="6.4"/><rect x="518.92" y="390.7" width="6.4" height="6.4"/><rect x="512.63" y="389.82" width="6.4" height="6.4"/><rect x="506.33" y="388.93" width="6.4" height="6.4"/><rect x="500.04" y="388.05" width="6.4" height="6.4"/><rect x="493.75" y="387.17" width="6.4" height="6.4"/><rect x="487.45" y="386.29" width="6.4" height="6.4"/><rect x="481.16" y="385.41" width="6.4" height="6.4"/><rect x="474.87" y="384.49" width="6.4" height="6.4"/><rect x="468.58" y="383.48" width="6.4" height="6.4"/><rect x="462.28" y="382.48" width="6.4" height="6.4"/><rect x="455.99" y="381.47" width="6.4" height="6.4"/><rect x="449.7" y="380.46" width="6.4" height="6.4"/><rect x="443.4" y="379.46" width="6.4" height="6.4"/><rect x="437.11" y="378.45" width="6.4" height="6.4"/><rect x="430.82" y="377.44" width="6.4" height="6.4"/><rect x="424.52" y="376.39" width="6.4" height="6.4"/><rect x="418.23" y="375.26" width="6.4" height="6.4"/><rect x="411.94" y="374.12" width="6.4" height="6.4"/><rect x="405.65" y="372.99" width="6.4" height="6.4"/><rect x="399.35" y="371.96" width="6.4" height="6.4"/><rect x="393.06" y="371.08" width="6.4" height="6.4"/><rect x="386.77" y="370.2" width="6.4" height="6.4"/><rect x="380.47" y="369.31" width="6.4" height="6.4"/><rect x="374.18" y="368.49" width="6.4" height="6.4"/><rect x="367.89" y="367.73" width="6.4" height="6.4"/><rect x="361.59" y="366.76" width="6.4" height="6.4"/><rect x="355.3" y="365.5" width="6.4" height="6.4"/><rect x="349.01" y="364.13" width="6.4" height="6.4"/><rect x="342.72" y="362.62" width="6.4" height="6.4"/><rect x="336.42" y="361.11" width="6.4" height="6.4"/><rect x="330.13" y="359.6" width="6.4" height="6.4"/><rect x="323.84" y="358.06" width="6.4" height="6.4"/><rect x="317.54" y="356.49" width="6.4" height="6.4"/><rect x="311.25" y="354.64" width="6.4" height="6.4"/><rect x="304.96" y="352.75" width="6.4" height="6.4"/><rect x="298.66" y="350.86" width="6.4" height="6.4"/><rect x="292.37" y="348.97" width="6.4" height="6.4"/><rect x="286.08" y="346.51" width="6.4" height="6.4"/><rect x="279.79" y="343.99" width="6.4" height="6.4"/><rect x="273.49" y="341.94" width="6.4" height="6.4"/><rect x="267.2" y="340.16" width="6.4" height="6.4"/><rect x="260.91" y="341.23" width="6.4" height="6.4"/><rect x="254.63" y="349.12" width="6.4" height="6.4"/><rect x="248.34" y="356.7" width="6.4" height="6.4"/><rect x="242.05" y="370" width="6.4" height="6.4"/><rect x="235.77" y="377.61" width="6.4" height="6.4"/><rect x="229.48" y="379.5" width="6.4" height="6.4"/><rect x="223.2" y="381.38" width="6.4" height="6.4"/><rect x="216.91" y="383.27" width="6.4" height="6.4"/><rect x="210.62" y="385.15" width="6.4" height="6.4"/><rect x="204.34" y="387.04" width="6.4" height="6.4"/><rect x="198.05" y="388.93" width="6.4" height="6.4"/><rect x="191.76" y="390.66" width="6.4" height="6.4"/><rect x="185.48" y="392.36" width="6.4" height="6.4"/><rect x="179.19" y="394.05" width="6.4" height="6.4"/><rect x="172.9" y="395.75" width="6.4" height="6.4"/><rect x="166.62" y="397.24" width="6.4" height="6.4"/><rect x="160.33" y="398.69" width="6.4" height="6.4"/><rect x="154.05" y="400.13" width="6.4" height="6.4"/><rect x="147.76" y="401.58" width="6.4" height="6.4"/><rect x="141.47" y="403.36" width="6.4" height="6.4"/><rect x="135.19" y="405.2" width="6.4" height="6.4"/><rect x="128.9" y="406.4" width="6.4" height="6.4"/></g><g fill="#0000ff"><rect x="131.3" y="408.8" width="1.6" height="1.6"/><rect x="137.58" y="408.2" width="1.6" height="1.6"/><rect x="143.86" y="407.91" width="1.6" height="1.6"/><rect x="150.15" y="407.01" width="1.6" height="1.6"/><rect x="156.43" y="406.2" width="1.6" height="1.6"/><rect x="162.71" y="405.2" width="1.6" height="1.6"/><rect x="168.99" y="404.39" width="1.6" height="1.6"/><rect x="175.27" y="403.49" width="1.6" height="1.6"/><rect x="181.56" y="402.71" width="1.6" height="1.6"/><rect x="187.84" y="401.89" width="1.6" height="1.6"/><rect x="194.12" y="401" width="1.6" height="1.6"/><rect x="200.4" y="400.19" width="1.6" height="1.6"/><rect x="206.68" y="399.44" width="1.6" height="1.6"/><rect x="212.97" y="398.53" width="1.6" height="1.6"/><rect x="219.25" y="397.73" width="1.6" height="1.6"/><rect x="225.53" y="396.92" width="1.6" height="1.6"/><rect x="231.81" y="396.03" width="1.6" height="1.6"/><rect x="238.09" y="395.21" width="1.6" height="1.6"/><rect x="244.38" y="394.43" width="1.6" height="1.6"/><rect x="250.66" y="393.23" width="1.6" height="1.6"/><rect x="256.94" y="392.32" width="1.6" height="1.6"/><rect x="263.22" y="391.51" width="1.6" height="1.6"/><rect x="269.5" y="390.52" width="1.6" height="1.6"/><rect x="275.79" y="389.3" width="1.6" height="1.6"/><rect x="282.07" y="388.22" width="1.6" height="1.6"/><rect x="288.35" y="387.21" width="1.6" height="1.6"/><rect x="294.63" y="386.01" width="1.6" height="1.6"/><rect x="300.91" y="384.8" width="1.6" height="1.6"/><rect x="307.2" y="383.8" width="1.6" height="1.6"/><rect x="313.48" y="382.69" width="1.6" height="1.6"/><rect x="319.76" y="381.51" width="1.6" height="1.6"/><rect x="326.04" y="380.06" width="1.6" height="1.6"/><rect x="332.32" y="378.49" width="1.6" height="1.6"/><rect x="338.61" y="376.78" width="1.6" height="1.6"/><rect x="344.89" y="375.48" width="1.6" height="1.6"/><rect x="351.17" y="374.31" width="1.6" height="1.6"/><rect x="357.45" y="373.49" width="1.6" height="1.6"/><rect x="363.73" y="372.34" width="1.6" height="1.6"/><rect x="370.02" y="370.77" width="1.6" height="1.6"/><rect x="376.3" y="369.01" width="1.6" height="1.6"/><rect x="382.58" y="367.47" width="1.6" height="1.6"/><rect x="388.86" y="366.11" width="1.6" height="1.6"/><rect x="395.14" y="364.76" width="1.6" height="1.6"/><rect x="401.43" y="363.4" width="1.6" height="1.6"/><rect x="407.71" y="361.79" width="1.6" height="1.6"/><rect x="413.99" y="359.98" width="1.6" height="1.6"/><rect x="420.27" y="357.69" width="1.6" height="1.6"/><rect x="426.55" y="354.03" width="1.6" height="1.6"/><rect x="432.84" y="345.81" width="1.6" height="1.6"/><rect x="439.12" y="339.54" width="1.6" height="1.6"/><rect x="445.4" y="334.2" width="1.6" height="1.6"/><rect x="451.71" y="336.8" width="1.6" height="1.6"/><rect x="458.01" y="339.24" width="1.6" height="1.6"/><rect x="464.32" y="341.54" width="1.6" height="1.6"/><rect x="470.63" y="343.91" width="1.6" height="1.6"/><rect x="476.93" y="346.95" width="1.6" height="1.6"/><rect x="483.24" y="351.08" width="1.6" height="1.6"/><rect x="489.55" y="355.62" width="1.6" height="1.6"/><rect x="495.86" y="359.51" width="1.6" height="1.6"/><rect x="502.16" y="363.17" width="1.6" height="1.6"/><rect x="508.47" y="366.19" width="1.6" height="1.6"/><rect x="514.78" y="369.48" width="1.6" height="1.6"/><rect x="521.08" y="372.49" width="1.6" height="1.6"/><rect x="527.39" y="374.99" width="1.6" height="1.6"/><rect x="533.7" y="377.46" width="1.6" height="1.6"/><rect x="540" y="379.54" width="1.6" height="1.6"/><rect x="546.31" y="382.05" width="1.6" height="1.6"/><rect x="552.62" y="384.57" width="1.6" height="1.6"/><rect x="558.92" y="386.71" width="1.6" height="1.6"/><rect x="565.23" y="388.73" width="1.6" height="1.6"/><rect x="571.54" y="390.42" width="1.6" height="1.6"/><rect x="577.84" y="391.95" width="1.6" height="1.6"/><rect x="584.15" y="392.7" width="1.6" height="1.6"/><rect x="590.46" y="394.05" width="1.6" height="1.6"/><rect x="596.77" y="395.73" width="1.6" height="1.6"/><rect x="603.07" y="396.98" width="1.6" height="1.6"/><rect x="609.38" y="397.73" width="1.6" height="1.6"/><rect x="615.69" y="398.61" width="1.6" height="1.6"/><rect x="621.99" y="399.62" width="1.6" height="1.6"/><rect x="628.3" y="403.2" width="1.6" height="1.6"/><rect x="628.3" y="403.7" width="1.6" height="1.6"/><rect x="622.01" y="403.45" width="1.6" height="1.6"/><rect x="615.71" y="403.18" width="1.6" height="1.6"/><rect x="609.42" y="402.92" width="1.6" height="1.6"/><rect x="603.13" y="402.59" width="1.6" height="1.6"/><rect x="596.84" y="401.96" width="1.6" height="1.6"/><rect x="590.54" y="401.33" width="1.6" height="1.6"/><rect x="584.25" y="400.7" width="1.6" height="1.6"/><rect x="577.96" y="400.05" width="1.6" height="1.6"/><rect x="571.66" y="399.3" width="1.6" height="1.6"/><rect x="565.37" y="398.54" width="1.6" height="1.6"/><rect x="559.08" y="397.79" width="1.6" height="1.6"/><rect x="552.78" y="397.03" width="1.6" height="1.6"/><rect x="546.49" y="396.27" width="1.6" height="1.6"/><rect x="540.2" y="395.52" width="1.6" height="1.6"/><rect x="533.91" y="394.76" width="1.6" height="1.6"/><rect x="527.61" y="393.98" width="1.6" height="1.6"/><rect x="521.32" y="393.1" width="1.6" height="1.6"/><rect x="515.03" y="392.22" width="1.6" height="1.6"/><rect x="508.73" y="391.33" width="1.6" height="1.6"/><rect x="502.44" y="390.45" width="1.6" height="1.6"/><rect x="496.15" y="389.57" width="1.6" height="1.6"/><rect x="489.85" y="388.69" width="1.6" height="1.6"/><rect x="483.56" y="387.81" width="1.6" height="1.6"/><rect x="477.27" y="386.89" width="1.6" height="1.6"/><rect x="470.98" y="385.88" width="1.6" height="1.6"/><rect x="464.68" y="384.88" width="1.6" height="1.6"/><rect x="458.39" y="383.87" width="1.6" height="1.6"/><rect x="452.1" y="382.86" width="1.6" height="1.6"/><rect x="445.8" y="381.86" width="1.6" height="1.6"/><rect x="439.51" y="380.85" width="1.6" height="1.6"/><rect x="433.22" y="379.84" width="1.6" height="1.6"/><rect x="426.92" y="378.79" width="1.6" height="1.6"/><rect x="420.63" y="377.66" width="1.6" height="1.6"/><rect x="414.34" y="376.52" width="1.6" height="1.6"/><rect x="408.05" y="375.39" width="1.6" height="1.6"/><rect x="401.75" y="374.36" width="1.6" height="1.6"/><rect x="395.46" y="373.48" width="1.6" height="1.6"/><rect x="389.17" y="372.6" width="1.6" height="1.6"/><rect x="382.87" y="371.71" width="1.6" height="1.6"/><rect x="376.58" y="370.89" width="1.6" height="1.6"/><rect x="370.29" y="370.13" width="1.6" height="1.6"/><rect x="363.99" y="369.16" width="1.6" height="1.6"/><rect x="357.7" y="367.9" width="1.6" height="1.6"/><rect x="351.41" y="366.53" width="1.6" height="1.6"/><rect x="345.12" y="365.02" width="1.6" height="1.6"/><rect x="338.82" y="363.51" width="1.6" height="1.6"/><rect x="332.53" y="362" width="1.6" height="1.6"/><rect x="326.24" y="360.46" width="1.6" height="1.6"/><rect x="319.94" y="358.89" width="1.6" height="1.6"/><rect x="313.65" y="357.04" width="1.6" height="1.6"/><rect x="307.36" y="355.15" width="1.6" height="1.6"/><rect x="301.06" y="353.26" width="1.6" height="1.6"/><rect x="294.77" y="351.37" width="1.6" height="1.6"/><rect x="288.48" y="348.91" width="1.6" height="1.6"/><rect x="282.19" y="346.39" width="1.6" height="1.6"/><rect x="275.89" y="344.34" width="1.6" height="1.6"/><rect x="269.6" y="342.56" width="1.6" height="1.6"/><rect x="263.31" y="343.63" width="1.6" height="1.6"/><rect x="257.03" y="351.52" width="1.6" height="1.6"/><rect x="250.74" y="359.1" width="1.6" height="1.6"/><rect x="244.45" y="372.4" width="1.6" height="1.6"/><rect x="238.17" y="380.01" width="1.6" height="1.6"/><rect x="231.88" y="381.9" width="1.6" height="1.6"/><rect x="225.6" y="383.78" width="1.6" height="1.6"/><rect x="219.31" y="385.67" width="1.6" height="1.6"/><rect x="213.02" y="387.55" width="1.6" height="1.6"/><rect x="206.74" y="389.44" width="1.6" height="1.6"/><rect x="200.45" y="391.32" width="1.6" height="1.6"/><rect x="194.16" y="393.06" width="1.6" height="1.6"/><rect x="187.88" y="394.76" width="1.6" height="1.6"/><rect x="181.59" y="396.45" width="1.6" height="1.6"/><rect x="175.3" y="398.15" width="1.6" height="1.6"/><rect x="169.02" y="399.64" width="1.6" height="1.6"/><rect x="162.73" y="401.09" width="1.6" height="1.6"/><rect x="156.45" y="402.53" width="1.6" height="1.6"/><rect x="150.16" y="403.98" width="1.6" height="1.6"/><rect x="143.87" y="405.76" width="1.6" height="1.6"/><rect x="137.59" y="407.6" width="1.6" height="1.6"/><rect x="131.3" y="408.8" width="1.6" height="1.6"/></g>
<line x1="336.7" y1="51" x2="339" y2="430.5" stroke="#1a1a1a" stroke-width="1.3" stroke-dasharray="5.3,4.2"/>
<rect x="94.5" y="19.5" width="550.8" height="411" fill="none" stroke="#262626" stroke-width="1.5"/>
<line x1="109.25" y1="430.5" x2="109.25" y2="422.5" stroke="#262626" stroke-width="1.5"/>
<text transform="translate(109.25,463.8) scale(1.000,1.090)" font-size="31.2" text-anchor="middle">-3.0</text>
<line x1="224.25" y1="430.5" x2="224.25" y2="422.5" stroke="#262626" stroke-width="1.5"/>
<text transform="translate(224.25,463.8) scale(1.000,1.090)" font-size="31.2" text-anchor="middle">-1.5</text>
<line x1="339" y1="430.5" x2="339" y2="422.5" stroke="#262626" stroke-width="1.5"/>
<text transform="translate(339,463.8) scale(1.000,1.090)" font-size="31.2" text-anchor="middle">0.0</text>
<line x1="453.75" y1="430.5" x2="453.75" y2="422.5" stroke="#262626" stroke-width="1.5"/>
<text transform="translate(453.75,463.8) scale(1.000,1.090)" font-size="31.2" text-anchor="middle">1.5</text>
<line x1="568.75" y1="430.5" x2="568.75" y2="422.5" stroke="#262626" stroke-width="1.5"/>
<text transform="translate(568.75,463.8) scale(1.000,1.090)" font-size="31.2" text-anchor="middle">3.0</text>
<line x1="94.5" y1="43" x2="102.5" y2="43" stroke="#262626" stroke-width="1.7"/>
<text transform="translate(85.2,53.4) scale(1.000,1.090)" font-size="31.2" text-anchor="end">480</text>
<line x1="94.5" y1="136.9" x2="102.5" y2="136.9" stroke="#262626" stroke-width="1.7"/>
<text transform="translate(85.2,147.3) scale(1.000,1.090)" font-size="31.2" text-anchor="end">400</text>
<line x1="94.5" y1="230.8" x2="102.5" y2="230.8" stroke="#262626" stroke-width="1.7"/>
<text transform="translate(85.2,241.2) scale(1.000,1.090)" font-size="31.2" text-anchor="end">320</text>
<line x1="94.5" y1="324.7" x2="102.5" y2="324.7" stroke="#262626" stroke-width="1.7"/>
<text transform="translate(85.2,335.1) scale(1.000,1.090)" font-size="31.2" text-anchor="end">240</text>
<line x1="94.5" y1="418.6" x2="102.5" y2="418.6" stroke="#262626" stroke-width="1.7"/>
<text transform="translate(85.2,429) scale(1.000,1.090)" font-size="31.2" text-anchor="end">160</text>
<line x1="100" y1="40" x2="147" y2="40" stroke="#ff00ff" stroke-width="1"/>
<rect x="120.05" y="36.55" width="6.9" height="6.9" fill="#fff" stroke="#ff00ff" stroke-width="2"/>
<rect x="122.8" y="39.3" width="1.4" height="1.4" fill="#ff00ff"/>
<text transform="translate(149,47.5) scale(1.000,1.065)" font-size="30.3">120nm</text>
<line x1="232.5" y1="40" x2="279.5" y2="40" stroke="#ff0000" stroke-width="1"/>
<rect x="252.55" y="36.55" width="6.9" height="6.9" fill="#fff" stroke="#ff0000" stroke-width="2"/>
<rect x="255.3" y="39.3" width="1.4" height="1.4" fill="#ff0000"/>
<text transform="translate(281,47.5) scale(1.000,1.065)" font-size="30.3">180nm</text>
<line x1="365" y1="40" x2="412.5" y2="40" stroke="#00ff00" stroke-width="1"/>
<rect x="385.3" y="36.55" width="6.9" height="6.9" fill="#fff" stroke="#00ff00" stroke-width="2"/>
<rect x="388.05" y="39.3" width="1.4" height="1.4" fill="#00ff00"/>
<text transform="translate(412,47.5) scale(1.000,1.065)" font-size="30.3">240nm</text>
<line x1="508" y1="40" x2="555.5" y2="40" stroke="#0000ff" stroke-width="1"/>
<rect x="528.3" y="36.55" width="6.9" height="6.9" fill="#fff" stroke="#0000ff" stroke-width="2"/>
<rect x="531.05" y="39.3" width="1.4" height="1.4" fill="#0000ff"/>
<text transform="translate(555,47.5) scale(1.000,1.065)" font-size="30.3">300nm</text>
<text transform="translate(6.6,27.5) scale(1.000,1.060)" font-size="34.5" font-weight="bold">a)</text>
<text transform="translate(292,496) scale(1.000,1.040)" font-size="32.4">Voltage (V)</text>
<text transform="translate(24.5,274.5) rotate(-90) scale(1,1.04)" font-size="32.5"><tspan font-style="italic">C</tspan> (pF)</text>
<line x1="777.5" y1="384" x2="1290" y2="56" stroke="#000" stroke-width="2"/>
<g stroke="#ff0000" stroke-width="1.9" fill="none"><line x1="816.75" y1="335.25" x2="816.75" y2="347.1"/><line x1="816.75" y1="365.7" x2="816.75" y2="377.5"/><line x1="810.45" y1="335.25" x2="823.05" y2="335.25"/><line x1="810.45" y1="377.5" x2="823.05" y2="377.5"/><rect x="807.45" y="347.1" width="18.6" height="18.6"/></g>
<g stroke="#ff0000" stroke-width="1.9" fill="none"><line x1="963" y1="235.5" x2="963" y2="254.3"/><line x1="963" y1="272.9" x2="963" y2="292"/><line x1="956.7" y1="235.5" x2="969.3" y2="235.5"/><line x1="956.7" y1="292" x2="969.3" y2="292"/><rect x="953.7" y="254.3" width="18.6" height="18.6"/></g>
<g stroke="#ff0000" stroke-width="1.9" fill="none"><line x1="1108.75" y1="137" x2="1108.75" y2="146.6"/><line x1="1108.75" y1="165.2" x2="1108.75" y2="174.75"/><line x1="1102.45" y1="137" x2="1115.05" y2="137"/><line x1="1102.45" y1="174.75" x2="1115.05" y2="174.75"/><rect x="1099.45" y="146.6" width="18.6" height="18.6"/></g>
<g stroke="#ff0000" stroke-width="1.9" fill="none"><line x1="1255" y1="60.25" x2="1255" y2="75.7"/><line x1="1255" y1="94.3" x2="1255" y2="110"/><line x1="1248.7" y1="60.25" x2="1261.3" y2="60.25"/><line x1="1248.7" y1="110" x2="1261.3" y2="110"/><rect x="1245.7" y="75.7" width="18.6" height="18.6"/></g>
<g stroke="#000" stroke-width="1.9" fill="none"><line x1="962" y1="353.5" x2="1020.5" y2="353.5"/><line x1="1038.75" y1="353.5" x2="1095.5" y2="353.5"/><line x1="1113" y1="354" x2="1178.25" y2="353"/><line x1="1196.25" y1="354" x2="1261.5" y2="353"/><line x1="1020.5" y1="330.5" x2="1021" y2="379.5"/><line x1="1038.75" y1="330.5" x2="1039.25" y2="379.5"/><line x1="1095.5" y1="330.5" x2="1096" y2="379.5"/><line x1="1113" y1="330.5" x2="1113.5" y2="379.5"/><line x1="1178.25" y1="330.5" x2="1178.75" y2="379.5"/><line x1="1196.25" y1="330.5" x2="1196.75" y2="379.5"/></g>
<text transform="translate(1006,317.7) scale(1.000,1.130)" font-size="32" font-style="italic">C</text>
<text transform="translate(1028,324.8) scale(1.000,1.050)" font-size="20.5">btm</text>
<text transform="translate(1087.5,317.7) scale(1.000,1.130)" font-size="32" font-style="italic">C</text>
<text transform="translate(1109,324.8) scale(1.000,1.050)" font-size="20.5">b</text>
<text transform="translate(1168.5,314.7) scale(1.000,1.130)" font-size="32" font-style="italic">C</text>
<text transform="translate(1190.5,321.8) scale(1.000,1.050)" font-size="20.5">top</text>
<rect x="768" y="19.5" width="536" height="411" fill="none" stroke="#262626" stroke-width="1.5"/>
<line x1="889.5" y1="430.5" x2="889.5" y2="422.5" stroke="#262626" stroke-width="1.5"/>
<text transform="translate(889.5,463.8) scale(1.000,1.090)" font-size="31.2" text-anchor="middle">150</text>
<line x1="1011.25" y1="430.5" x2="1011.25" y2="422.5" stroke="#262626" stroke-width="1.5"/>
<text transform="translate(1011.25,463.8) scale(1.000,1.090)" font-size="31.2" text-anchor="middle">200</text>
<line x1="1133" y1="430.5" x2="1133" y2="422.5" stroke="#262626" stroke-width="1.5"/>
<text transform="translate(1133,463.8) scale(1.000,1.090)" font-size="31.2" text-anchor="middle">250</text>
<line x1="1255" y1="430.5" x2="1255" y2="422.5" stroke="#262626" stroke-width="1.5"/>
<text transform="translate(1255,463.8) scale(1.000,1.090)" font-size="31.2" text-anchor="middle">300</text>
<text transform="translate(769,463.8) scale(1.000,1.090)" font-size="31.2" text-anchor="middle">100</text>
<line x1="768" y1="76.25" x2="776" y2="76.25" stroke="#262626" stroke-width="1.7"/>
<text transform="translate(758,86.65) scale(1.000,1.090)" font-size="31.2" text-anchor="end">5</text>
<line x1="768" y1="190.75" x2="776" y2="190.75" stroke="#262626" stroke-width="1.7"/>
<text transform="translate(758,201.15) scale(1.000,1.090)" font-size="31.2" text-anchor="end">4</text>
<line x1="768" y1="304.75" x2="776" y2="304.75" stroke="#262626" stroke-width="1.7"/>
<text transform="translate(758,315.15) scale(1.000,1.090)" font-size="31.2" text-anchor="end">3</text>
<line x1="768" y1="418.75" x2="776" y2="418.75" stroke="#262626" stroke-width="1.7"/>
<text transform="translate(758,429.15) scale(1.000,1.090)" font-size="31.2" text-anchor="end">2</text>
<text transform="translate(711.2,27.5) scale(1.000,1.060)" font-size="34.5" font-weight="bold">b)</text>
<text transform="translate(961.8,498) scale(1.000,1.060)" font-size="32.6">Thickness (nm)</text>
<text transform="translate(731.8,307) rotate(-90) scale(1,1.05)" font-size="32"><tspan font-style="italic">C</tspan><tspan font-size="20.5" dy="-14.8" dx="7">-1</tspan></text>
<text transform="translate(731.8,251.9) rotate(-90) scale(1,1.09)" font-size="31">(10<tspan font-size="19.5" dy="-14.3" dx="0.5">9</tspan><tspan dy="14.3" dx="1">·F</tspan><tspan font-size="20" dy="-14.3" dx="-1">-1</tspan><tspan dy="14.3" dx="-1">)</tspan></text>
<g fill="#fff" stroke="#3030ff" stroke-width="1.5" stroke-linejoin="round"><rect x="1474.45" y="51.2" width="13.6" height="13.6"/><rect x="1481.2" y="57.7" width="13.6" height="13.6"/><rect x="1487.7" y="66.2" width="13.6" height="13.6"/><rect x="1494.2" y="75.2" width="13.6" height="13.6"/><rect x="1500.7" y="86.95" width="13.6" height="13.6"/><rect x="1507.2" y="97.7" width="13.6" height="13.6"/><rect x="1513.7" y="108.95" width="13.6" height="13.6"/><rect x="1520.2" y="120.7" width="13.6" height="13.6"/><rect x="1526.7" y="131.7" width="13.6" height="13.6"/><rect x="1533.2" y="143.2" width="13.6" height="13.6"/><rect x="1539.7" y="153.7" width="13.6" height="13.6"/><rect x="1546.2" y="164.2" width="13.6" height="13.6"/><rect x="1552.7" y="174.45" width="13.6" height="13.6"/><rect x="1559.2" y="183.7" width="13.6" height="13.6"/><rect x="1565.7" y="193.2" width="13.6" height="13.6"/><rect x="1572.2" y="203.2" width="13.6" height="13.6"/><rect x="1578.7" y="212.45" width="13.6" height="13.6"/><rect x="1585.2" y="221.2" width="13.6" height="13.6"/><rect x="1591.7" y="231.2" width="13.6" height="13.6"/><rect x="1598.2" y="240.7" width="13.6" height="13.6"/><rect x="1604.7" y="249.7" width="13.6" height="13.6"/><rect x="1611.2" y="259.2" width="13.6" height="13.6"/><rect x="1617.7" y="268.45" width="13.6" height="13.6"/><rect x="1624.2" y="277.2" width="13.6" height="13.6"/><rect x="1630.7" y="286.7" width="13.6" height="13.6"/><rect x="1637.2" y="296.2" width="13.6" height="13.6"/><rect x="1643.2" y="305.95" width="13.6" height="13.6"/><rect x="1649.7" y="315.45" width="13.6" height="13.6"/><rect x="1656.2" y="325.45" width="13.6" height="13.6"/><rect x="1662.7" y="335.45" width="13.6" height="13.6"/><rect x="1669.2" y="344.7" width="13.6" height="13.6"/><rect x="1675.7" y="354.7" width="13.6" height="13.6"/><rect x="1682.45" y="364.7" width="13.6" height="13.6"/></g>
<g fill="#fff" stroke="#ff2020" stroke-width="1.5"><circle cx="1955.3" cy="142.3" r="7.8"/><circle cx="1948.8" cy="149.8" r="7.8"/><circle cx="1942.3" cy="158.6" r="7.8"/><circle cx="1935.8" cy="168.8" r="7.8"/><circle cx="1929.3" cy="180.2" r="7.8"/><circle cx="1922.8" cy="192" r="7.8"/><circle cx="1916.3" cy="203.3" r="7.8"/><circle cx="1909.8" cy="214.6" r="7.8"/><circle cx="1903.3" cy="225.9" r="7.8"/><circle cx="1896.8" cy="235.9" r="7.8"/><circle cx="1890.3" cy="245.4" r="7.8"/><circle cx="1883.8" cy="257" r="7.8"/><circle cx="1877.3" cy="266" r="7.8"/><circle cx="1870.8" cy="274.8" r="7.8"/><circle cx="1864.3" cy="283.7" r="7.8"/><circle cx="1857.8" cy="292.5" r="7.8"/><circle cx="1851.3" cy="301.4" r="7.8"/><circle cx="1844.8" cy="310.3" r="7.8"/><circle cx="1838.3" cy="319" r="7.8"/><circle cx="1831.8" cy="327.7" r="7.8"/><circle cx="1825.3" cy="336.5" r="7.8"/><circle cx="1818.8" cy="345.2" r="7.8"/><circle cx="1812.3" cy="353.9" r="7.8"/><circle cx="1805.8" cy="362.6" r="7.8"/><circle cx="1799.3" cy="371.3" r="7.8"/><circle cx="1792.8" cy="380" r="7.8"/><circle cx="1786.3" cy="388.7" r="7.8"/><circle cx="1779.8" cy="397.3" r="7.8"/><circle cx="1773.3" cy="406" r="7.8"/></g>
<line x1="1458.75" y1="30" x2="1716.75" y2="410" stroke="#000" stroke-width="2"/>
<line x1="1760" y1="423.75" x2="1966.75" y2="127.25" stroke="#000" stroke-width="2"/>
<rect x="1437" y="18.8" width="536.5" height="411" fill="none" stroke="#262626" stroke-width="1.5"/>
<line x1="1453" y1="429.8" x2="1453" y2="421.8" stroke="#262626" stroke-width="1.5"/>
<text transform="translate(1453,463.1) scale(1.000,1.090)" font-size="31.2" text-anchor="middle">-3.0</text>
<line x1="1572.75" y1="429.8" x2="1572.75" y2="421.8" stroke="#262626" stroke-width="1.5"/>
<text transform="translate(1572.75,463.1) scale(1.000,1.090)" font-size="31.2" text-anchor="middle">-1.5</text>
<line x1="1693" y1="429.8" x2="1693" y2="421.8" stroke="#262626" stroke-width="1.5"/>
<text transform="translate(1693,463.1) scale(1.000,1.090)" font-size="31.2" text-anchor="middle">0.0</text>
<line x1="1813.25" y1="429.8" x2="1813.25" y2="421.8" stroke="#262626" stroke-width="1.5"/>
<text transform="translate(1813.25,463.1) scale(1.000,1.090)" font-size="31.2" text-anchor="middle">1.5</text>
<line x1="1933.25" y1="429.8" x2="1933.25" y2="421.8" stroke="#262626" stroke-width="1.5"/>
<text transform="translate(1933.25,463.1) scale(1.000,1.090)" font-size="31.2" text-anchor="middle">3.0</text>
<line x1="1437" y1="37.5" x2="1445" y2="37.5" stroke="#262626" stroke-width="1.7"/>
<text transform="translate(1428,47.9) scale(1.000,1.090)" font-size="31.2" text-anchor="end">11</text>
<line x1="1437" y1="132" x2="1445" y2="132" stroke="#262626" stroke-width="1.7"/>
<text transform="translate(1428,142.4) scale(1.000,1.090)" font-size="31.2" text-anchor="end">10</text>
<line x1="1437" y1="226.5" x2="1445" y2="226.5" stroke="#262626" stroke-width="1.7"/>
<text transform="translate(1428,236.9) scale(1.000,1.090)" font-size="31.2" text-anchor="end">9</text>
<line x1="1437" y1="321" x2="1445" y2="321" stroke="#262626" stroke-width="1.7"/>
<text transform="translate(1428,331.4) scale(1.000,1.090)" font-size="31.2" text-anchor="end">8</text>
<line x1="1437" y1="415.5" x2="1445" y2="415.5" stroke="#262626" stroke-width="1.7"/>
<text transform="translate(1428,425.9) scale(1.000,1.090)" font-size="31.2" text-anchor="end">7</text>
<line x1="1655" y1="43.75" x2="1702.5" y2="43.75" stroke="#666" stroke-width="1.3"/>
<rect x="1672" y="37" width="13.5" height="13.5" fill="#fff" stroke="#3030ff" stroke-width="1.5"/>
<line x1="1655" y1="81.25" x2="1703" y2="81.25" stroke="#ff2020" stroke-width="1.4"/>
<circle cx="1678.75" cy="81.25" r="7.5" fill="#fff" stroke="#ff2020" stroke-width="1.5"/>
<text x="1710.3" y="52" font-size="36">−</text>
<text transform="translate(1732.3,51.6) scale(1.000,1.080)" font-size="30.2">2.7</text>
<text transform="translate(1766.5,47.1) scale(1.75,0.7)" font-size="30" fill="#1a1a1a" stroke="#1a1a1a" stroke-width="0.45">→</text>
<text transform="translate(1815,51.6) scale(1.000,1.050)" font-size="31">0 V</text>
<text x="1710.3" y="89.5" font-size="36">+</text>
<text transform="translate(1732.3,88.9) scale(1.000,1.080)" font-size="30.2">3.3</text>
<text transform="translate(1762,83.7) scale(1.75,0.7)" font-size="30" fill="#1a1a1a" stroke="#1a1a1a" stroke-width="0.45">→</text>
<text transform="translate(1807,88.9) scale(1.000,1.050)" font-size="31">+1 V</text>
<text transform="translate(1358,27) scale(1.000,1.060)" font-size="34.5" font-weight="bold">(c)</text>
<text transform="translate(1643,493.2) scale(1.000,1.050)" font-size="32.5">Voltage (V)</text>
<text transform="translate(1395.5,298.4) rotate(-90) scale(1,1.05)" font-size="32"><tspan font-style="italic">C</tspan><tspan font-size="20.5" dy="-14.8" dx="9">-2</tspan></text>
<text transform="translate(1395.5,243.6) rotate(-90) scale(1,1.09)" font-size="30.8">(10<tspan font-size="19" dy="-14.3" dx="0.5">18</tspan><tspan dy="14.3" dx="0.5">·F</tspan><tspan font-size="20" dy="-14.3">-2</tspan><tspan dy="14.3">)</tspan></text>
</svg>
</body>
</html>
